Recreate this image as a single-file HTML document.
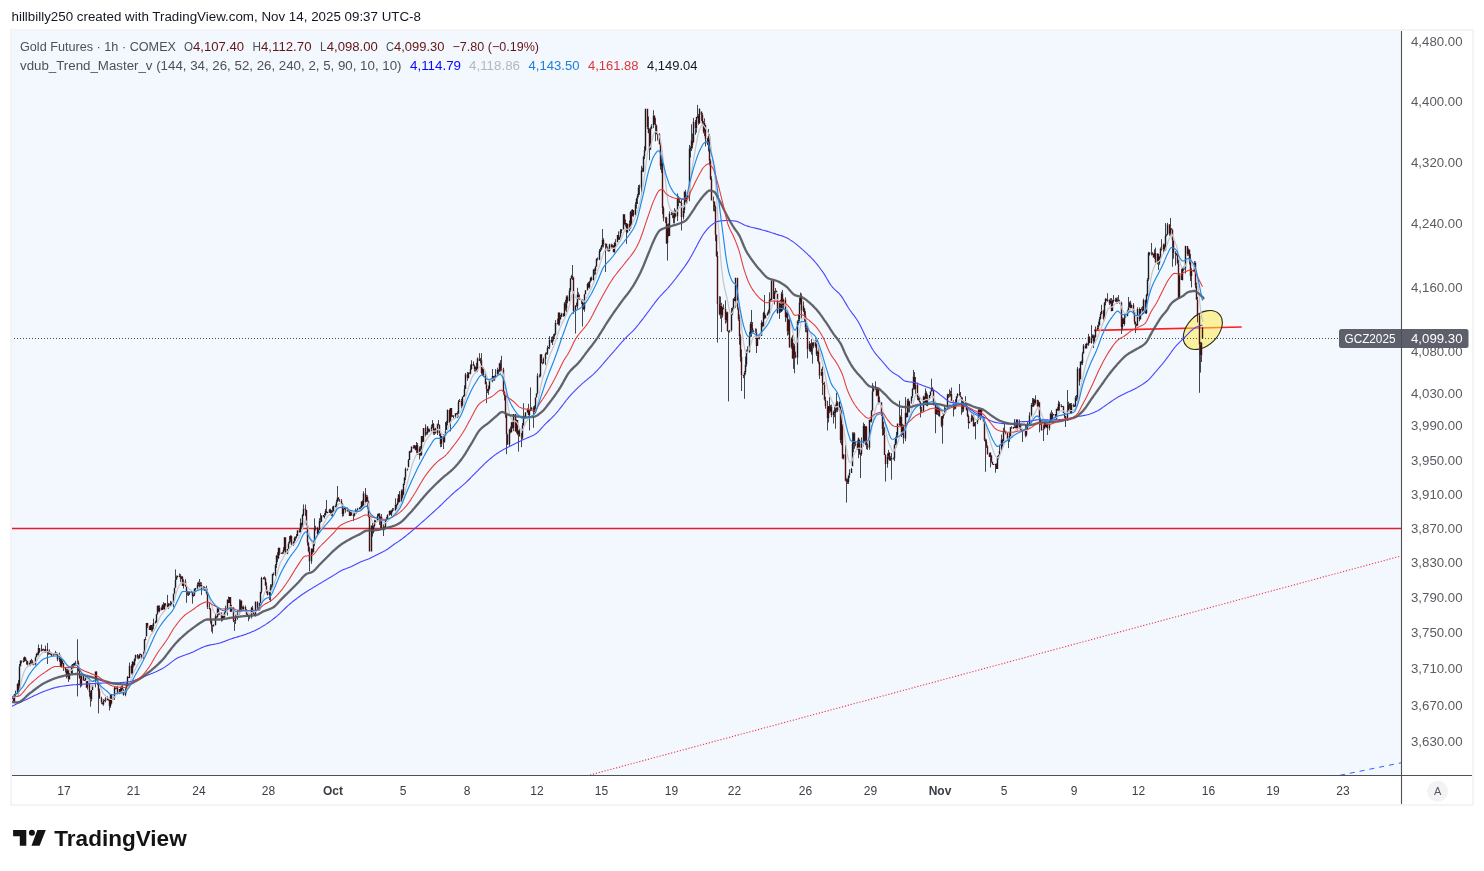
<!DOCTYPE html>
<html><head><meta charset="utf-8"><title>Gold Futures chart</title><style>html,body{margin:0;padding:0;background:#fff;width:1484px;height:871px;overflow:hidden}body{position:relative;font-family:"Liberation Sans",sans-serif}</style></head><body><svg width="1484" height="871" viewBox="0 0 1484 871" style="position:absolute;left:0;top:0;will-change:transform;font-family:'Liberation Sans',sans-serif">
<rect x="0" y="0" width="1484" height="871" fill="#fff"/>
<rect x="11" y="30" width="1462" height="775" fill="#fff" stroke="#f4f4f6" stroke-width="2"/>
<rect x="12" y="31" width="1389" height="744" fill="#f3f7fe"/>
<clipPath id="cp"><rect x="12" y="31" width="1389" height="744"/></clipPath>
<g clip-path="url(#cp)" fill="none">
<line x1="11" y1="528.5" x2="1401" y2="528.5" stroke="#e41c28" stroke-width="1.5"/>
<line x1="590" y1="775" x2="1401" y2="556" stroke="#f23645" stroke-width="1.1" stroke-dasharray="1.2 1.8"/>
<line x1="1340" y1="775.3" x2="1401" y2="762.8" stroke="#2962ff" stroke-width="1" stroke-dasharray="5 5"/>
<line x1="1094" y1="330.4" x2="1241.7" y2="327" stroke="#ff1c1c" stroke-width="1.6"/>
<ellipse cx="1202.8" cy="330" rx="22.9" ry="15.4" transform="rotate(-45 1202.8 330)" fill="#ffeb3b" fill-opacity="0.5" stroke="#2a2a12" stroke-width="1.1"/>
<line x1="11" y1="338.5" x2="1401" y2="338.5" stroke="#4a4a4a" stroke-width="1" stroke-dasharray="1 2"/>
<path d="M13.5 697.1V697.7M13.5 701.2V701.6M14.5 701.2V702.2M15.5 690.6V693.5M15.5 694.7V696.4M17.5 683.3V684.1M18.5 680.1V684.1M18.5 690.7V695.6M19.5 664V666.2M19.5 690.7V692M20.5 660.2V660.7M21.5 661.8V663.4M23.5 657.7V660.7M23.5 661.9V662.5M24.5 656.4V656.9M24.5 661V661.7M25.5 660.7V661.2M26.5 659.6V660.3M26.5 661.5V664.6M27.5 664.7V665.4M29.5 662.7V663.1M29.5 664.7V665.9M30.5 663.1V666.1M31.5 658.8V660.2M31.5 661.4V663.8M32.5 660.2V661.3M32.5 664.6V664.9M33.5 663.7V664.1M35.5 656.6V657.2M35.5 664.7V665.3M36.5 652.9V653.7M37.5 652.3V653.7M37.5 654.9V655.3M38.5 644.5V647.9M38.5 654.8V655.4M39.5 652.1V653M41.5 644.5V650M42.5 648.9V649.2M42.5 650.4V651.1M43.5 648.5V648.9M44.5 649.4V649.8M45.5 645.6V649.1M45.5 652.2V652.5M47.5 643V649.1M47.5 652.9V664M48.5 651V651.4M48.5 652.9V654.9M49.5 649.5V651.4M50.5 652.6V653.2M50.5 654.4V654.9M51.5 652.6V653.4M51.5 655.7V656.2M53.5 653.1V653.8M54.5 653.1V653.5M55.5 650.9V652.6M55.5 654.5V655.2M56.5 653.7V654.8M57.5 659.7V661.2M59.5 652.6V653.9M59.5 659.7V661.9M61.5 658.5V658.9M61.5 667.1V667.4M62.5 663V664.2M63.5 667.6V670.9M65.5 667V667.6M65.5 670.3V672.6M66.5 668.9V670.3M66.5 675.8V678.4M67.5 668.9V670.2M67.5 675.8V676.9M68.5 669.7V670.2M68.5 679.2V682M69.5 679.2V679.6M71.5 665.4V665.8M71.5 673V673.7M72.5 665.8V673.9M73.5 663.3V664M73.5 665.4V667.4M74.5 665.4V665.8M75.5 660.8V662.5M75.5 663.7V664.6M77.5 639.3V662.4M77.5 663.6V696.4M78.5 660.6V662.6M78.5 670.9V671.3M79.5 667.6V670.9M80.5 675.5V678.4M80.5 685.7V687.5M81.5 675.7V676.1M81.5 685.7V686.4M83.5 680.3V680.7M85.5 675.3V677.6M87.5 687.8V689.7M89.5 680.6V681.1M89.5 692.2V696.7M90.5 691V692.2M90.5 699.3V706.7M91.5 699.3V701.4M92.5 685.4V686.3M95.5 681V687.4M96.5 671.2V671.5M96.5 680.3V680.6M97.5 679V680.3M97.5 682.7V685.2M98.5 682V682.7M98.5 690.9V713.4M99.5 688.6V690.9M99.5 698V698.8M101.5 696.8V698M101.5 702.5V703.8M103.5 699.1V700.6M103.5 704.5V705.8M105.5 697.2V698.2M105.5 700.7V702.4M107.5 696.2V698.2M108.5 700.5V700.8M109.5 699V699.4M109.5 706V710.5M110.5 706V707.8M111.5 703.7V704.3M113.5 697V697.5M114.5 686.2V688.1M114.5 697.5V699.8M115.5 688.7V689.4M116.5 688.6V689.1M117.5 686.2V687.7M117.5 693.5V694.4M119.5 693.5V694.2M120.5 686.7V689M121.5 686.1V687.9M121.5 692.3V693.4M122.5 685.2V687.9M123.5 689.1V689.6M123.5 695.1V695.7M125.5 688.2V690.8M125.5 695.1V696.3M126.5 683.3V684.2M126.5 690.8V692.7M127.5 676.1V677.1M127.5 684.2V686.4M129.5 662.6V665.8M129.5 677.9V678.2M131.5 664.4V665.8M131.5 673.3V674.3M132.5 661V661.7M132.5 673.3V675.1M133.5 665.2V667.4M134.5 658.4V658.8M134.5 665.2V665.6M135.5 654.6V655.1M135.5 658.8V661.2M137.5 654V655.1M137.5 657.4V658.7M138.5 655.5V657.3M138.5 658.5V659.3M139.5 653.8V654.5M141.5 657.4V658.9M143.5 651.6V654.4M143.5 657.4V658.9M144.5 638.9V639.2M145.5 636.9V638.8M145.5 640V640.3M147.5 622.8V623.1M147.5 626.3V627.8M149.5 626V626.3M151.5 630.5V631.5M152.5 624.6V626.4M152.5 630.5V631.6M153.5 618.6V622.9M153.5 626.4V628.8M155.5 620.6V621.9M155.5 623.1V623.6M156.5 614V614.3M156.5 622V622.5M157.5 605.4V606M157.5 614.3V614.7M158.5 605.5V606M158.5 611.2V612M159.5 605.3V607.5M159.5 611.2V612.4M161.5 606.6V607.5M163.5 602.1V604.4M164.5 609.2V609.8M165.5 605.1V606.3M167.5 594.9V605.1M168.5 602.9V603.8M168.5 607.5V608.8M169.5 604.6V605.5M170.5 600.9V603.8M170.5 605V606.1M171.5 601.5V602.5M173.5 602.5V607.3M175.5 569.4V579.8M176.5 575.5V576.7M177.5 577V577.6M179.5 573.5V575.5M179.5 576.7V577M180.5 574.1V575.9M180.5 578.8V582.1M181.5 575.8V576.8M181.5 578.8V579.3M182.5 576.2V576.8M183.5 579.4V581.2M183.5 585.9V588.6M185.5 579.1V581.2M185.5 586V586.9M186.5 585.2V586M186.5 592.2V602.8M187.5 590.9V592.2M187.5 594.5V595.7M188.5 591.6V593.5M188.5 594.7V596M189.5 591.4V592M189.5 593.7V595M191.5 591V591.4M192.5 596.3V603.7M193.5 594.2V594.8M193.5 596.3V596.8M194.5 588.4V588.7M194.5 594.8V596.1M195.5 589.2V590.6M197.5 582.5V584.5M197.5 588.4V590.3M198.5 581.7V582.9M198.5 584.5V586.4M199.5 579V582.9M199.5 586V588.3M200.5 581.9V584.7M200.5 586V586.6M201.5 582.5V584.7M201.5 588.9V595.1M203.5 586.1V586.9M204.5 586.4V586.9M204.5 588.8V591M205.5 587.7V588.2M205.5 589.4V590M206.5 585.7V588.9M206.5 593.5V594.3M207.5 588.7V593.5M207.5 607.5V609M209.5 602.4V607.5M209.5 608.9V609.4M210.5 608.1V608.9M210.5 620.9V623.5M211.5 619.6V620.9M211.5 625V631.6M212.5 626.6V633.5M213.5 624.3V625.1M215.5 614.1V616.2M215.5 625.1V625.6M216.5 617.5V618.4M218.5 607.8V608.3M218.5 614.5V615.3M219.5 614.5V615M221.5 619.3V621.6M222.5 619.3V620.8M223.5 614.8V615.5M223.5 618.5V619M225.5 605.7V609M225.5 612.3V612.9M227.5 609V615.6M228.5 596.6V599.4M230.5 611.7V612.1M231.5 604.9V607.6M233.5 607.2V607.6M233.5 620.8V622.1M234.5 621.5V630.9M235.5 614.8V616.8M235.5 621.1V623.9M237.5 610.1V613.5M237.5 617.3V619.8M239.5 599.3V609.2M239.5 613.5V614.6M240.5 599.6V600.5M240.5 609.2V610.9M241.5 608.4V610.1M242.5 606.3V608.2M243.5 605.5V606.7M243.5 609.2V610.6M245.5 605.5V606.7M246.5 609V609.8M246.5 614.1V614.9M247.5 613.5V614.1M247.5 616.3V617M248.5 616.4V621.2M249.5 617.6V618.9M251.5 606.9V607.8M251.5 617.6V618.5M252.5 605.9V607.8M252.5 611.9V612.3M254.5 614.9V616M255.5 601.3V601.7M255.5 614.5V616.5M257.5 601.2V601.7M257.5 607.7V609M258.5 609.9V610.5M259.5 609.9V610.6M261.5 576.8V578.1M261.5 591.7V593.5M263.5 577.2V578.1M264.5 576.4V578.3M265.5 577.4V578.5M265.5 585.4V586M266.5 582.2V585.4M266.5 591.2V593.1M267.5 595.1V595.5M269.5 595.1V600.1M270.5 584.3V587.3M270.5 592V601.9M271.5 584.3V585.3M271.5 587.3V589.9M272.5 585.3V587.9M273.5 572.4V573.7M273.5 574.9V575.4M275.5 564V565.3M275.5 574.8V576.3M276.5 554.9V555.4M276.5 565.3V567.9M277.5 552.2V555.4M277.5 558.5V562.1M278.5 558.5V559.2M279.5 553.4V555.2M282.5 551.8V552.3M282.5 553.5V554.1M283.5 547.2V550.1M283.5 552.3V553.6M284.5 550.1V551.2M285.5 553.7V554.2M287.5 553.7V554.2M288.5 542.3V543.4M289.5 536.1V540.7M290.5 535.2V536.1M290.5 540.7V541.9M291.5 535.5V536.1M293.5 541.2V541.5M293.5 544.9V545.8M294.5 536.6V537.7M294.5 541.5V544.1M295.5 536.6V537.1M295.5 538.3V540.7M296.5 534V536M296.5 537.8V538.5M299.5 528.5V530.3M299.5 532.2V532.6M300.5 518.4V522.9M300.5 532.2V532.5M301.5 522.5V522.9M301.5 525V528.8M302.5 513.9V514.9M302.5 525V527.4M303.5 504.4V508.5M303.5 514.9V516M305.5 504.5V508.5M305.5 510V516.1M307.5 542.7V545.5M308.5 541.9V542.7M308.5 551.5V552.3M309.5 547.1V551.5M309.5 561.4V571.2M311.5 548.2V548.7M311.5 561.4V563.8M312.5 548.4V548.7M312.5 551.9V554M313.5 541.5V543.4M313.5 551.9V552.5M314.5 518.4V528.7M314.5 543.4V546.1M315.5 525.9V527.6M315.5 528.8V530.4M317.5 526.8V527.7M317.5 534V536.6M318.5 529.4V530.2M319.5 518.2V520.4M320.5 513.2V520.4M320.5 521.8V522.9M321.5 515.2V516.1M323.5 516.3V517.3M324.5 513.2V515.4M324.5 516.9V518.4M325.5 508.9V510.8M326.5 500V510.8M326.5 512.7V513.1M329.5 508.9V509.6M330.5 508.7V509.6M330.5 513.3V513.8M331.5 510V510.9M331.5 513.3V516.1M332.5 506.6V510.9M332.5 512.5V516.7M335.5 504.5V505.7M335.5 506.9V507.4M336.5 499.8V501.7M336.5 506.8V509.1M337.5 486V497.6M337.5 501.7V502.2M338.5 497.2V497.6M338.5 499.3V500.6M339.5 500.8V501.9M341.5 499.1V500.8M342.5 503.2V503.7M342.5 514.1V516.7M343.5 508.3V509M343.5 514.1V516.2M345.5 508V508.5M345.5 510.4V512.7M347.5 507.5V510.2M348.5 508.8V509.9M348.5 511.1V511.5M350.5 510.6V511.2M353.5 513.3V514.9M353.5 516.1V521.1M354.5 515.7V516.5M355.5 508.6V512M356.5 513.1V513.7M357.5 507.8V508.8M359.5 507.1V507.7M359.5 508.9V509.2M360.5 506.2V507.7M361.5 501.1V501.6M361.5 510.1V510.4M362.5 500.2V501.6M362.5 508.8V509.4M363.5 491.3V493.3M365.5 488V493.3M365.5 501.9V504.4M366.5 495.1V496.7M367.5 495.3V496.7M367.5 501.3V508.5M368.5 500.5V501.3M368.5 516.7V517.4M372.5 523V525.5M372.5 531.9V536.6M373.5 525.3V526.3M373.5 531.9V533.5M374.5 519.8V522.8M374.5 526.3V527.3M375.5 520.1V520.6M375.5 522.8V523.2M377.5 513.9V516.1M378.5 516.1V516.5M379.5 513.1V513.5M379.5 521.6V524.9M380.5 521.6V528.6M381.5 514.1V516.4M381.5 528.5V529.6M383.5 524.4V527.1M383.5 528.5V536M384.5 526.3V526.8M384.5 528V530.2M385.5 519.3V519.8M385.5 527.7V529M386.5 516.9V518.8M386.5 520V520.7M387.5 514.3V515M389.5 515V515.6M390.5 510.5V510.8M391.5 509.8V510.8M391.5 514.8V516.1M392.5 508V509.7M392.5 510.9V512.2M393.5 508.1V509.4M395.5 498.3V504.4M395.5 510.2V510.7M396.5 504.1V504.4M396.5 507.6V508.8M397.5 498.5V502.5M398.5 502.5V503.5M399.5 491V494.2M399.5 501.9V502.3M401.5 489.4V490.4M401.5 501.9V502.3M402.5 489.4V490.4M402.5 496.9V498.6M404.5 477V477.6M404.5 483.5V485M405.5 467.5V469M405.5 477.6V480.1M407.5 469.8V470.8M408.5 459.2V460M409.5 450.8V451.3M410.5 450.4V451.3M413.5 445V446.5M413.5 448.2V448.7M414.5 444.9V445.4M414.5 448.2V448.6M416.5 442V444.9M416.5 450.3V452.9M417.5 443.1V444.9M419.5 446.5V448.2M419.5 454.9V459.5M420.5 445.9V448.2M420.5 455.1V456.2M421.5 455.1V455.8M425.5 424.3V428M425.5 435.6V436.6M426.5 431.8V433.4M427.5 433.5V434.7M428.5 431.4V432.4M429.5 428.8V429.5M429.5 431.4V432.2M431.5 424.7V426.7M431.5 429.5V431.3M432.5 420V423.9M432.5 426.7V427.9M433.5 423V423.9M433.5 433.6V434.8M434.5 428.5V429.1M434.5 433.6V435M435.5 427.7V429.1M435.5 433V433.8M437.5 423.6V424.2M437.5 433V435M438.5 420V424M439.5 424.5V424.9M439.5 433.6V436.1M440.5 444.5V447.2M441.5 444.5V446.9M443.5 434.1V436.1M443.5 442.2V449M444.5 435.3V435.6M444.5 442.2V442.6M445.5 422V431.2M445.5 435.6V436M446.5 420.9V423M447.5 409.5V410.1M447.5 423V425.3M449.5 409.3V410.1M449.5 422.5V423.5M450.5 422.5V431.4M451.5 416.7V417.4M452.5 415V415.4M453.5 415.1V415.4M453.5 416.7V418.3M455.5 416.7V418.4M457.5 411.4V413.5M457.5 414.7V418.1M458.5 400V401.9M458.5 414.1V416.7M459.5 399V400.4M461.5 398.9V400.4M461.5 406.6V408.4M462.5 406.6V407M463.5 394.9V395.8M464.5 385.3V389M464.5 396V396.5M465.5 372.9V374.3M467.5 371.9V374.3M467.5 378.3V380.8M468.5 372.3V372.7M470.5 364.8V369M470.5 373.7V374.4M471.5 360.2V364.1M471.5 369V369.7M473.5 361.5V364.1M474.5 364.8V365.8M474.5 369.6V371.6M475.5 369.6V371.5M476.5 362.7V366.8M476.5 370.2V371M477.5 357.4V358.2M477.5 370.2V371.9M479.5 353.2V358.2M480.5 358V360M480.5 361.2V363.5M481.5 353.2V360.3M481.5 373.1V374.5M482.5 365.9V368.6M482.5 373.1V376.1M483.5 367V368.6M483.5 375.7V377.1M485.5 373.4V375.7M486.5 381.7V384.2M486.5 388.9V403.2M487.5 391.2V393M488.5 385.7V389M488.5 391.2V394.8M489.5 389V389.5M491.5 380.6V381.3M492.5 369V376M492.5 379.9V382.3M493.5 380.6V381M494.5 375.9V377.7M495.5 369.1V374.4M495.5 377.7V378.3M497.5 367.7V369.4M498.5 371.7V375.8M499.5 362.7V363.3M500.5 360.1V363.3M500.5 368.9V373.7M501.5 355.8V368.5M501.5 369.7V371.7M503.5 367.8V369.2M503.5 392.1V394.4M504.5 391.3V392.1M504.5 395.9V400.5M505.5 395.5V395.9M505.5 414.8V417.8M506.5 413.9V414.8M506.5 434.6V454.2M507.5 433.6V434.6M509.5 428.6V429.2M509.5 444.8V446.9M510.5 426.6V429.2M510.5 432.2V433.4M511.5 421.9V422.2M511.5 432.2V432.5M512.5 421.8V422.2M512.5 428.1V428.6M513.5 428.1V431.1M515.5 431.4V431.7M516.5 419.3V420.1M516.5 431.4V433.1M517.5 434.3V435.2M518.5 430.2V431.1M518.5 434.3V451.6M519.5 428.5V431.1M521.5 432.9V436.5M521.5 437.7V447.2M522.5 423V425.3M522.5 437.7V439.3M523.5 403.2V419.1M523.5 425.3V425.8M524.5 415.7V417.1M525.5 412V412.6M527.5 412.6V413M528.5 403.8V408.5M528.5 414.9V415.4M529.5 410.1V411M529.5 414.9V430.5M530.5 387.4V409.2M531.5 406.9V407.8M531.5 409.2V410.6M533.5 406.2V407.8M533.5 411.7V427.8M534.5 405.5V407M534.5 411.7V412.5M535.5 407V409.2M536.5 393.1V393.6M537.5 373.3V375.5M537.5 393.6V394.3M539.5 374.2V375.4M539.5 376.6V377.6M540.5 376.6V377.1M542.5 363.7V364.4M543.5 357.5V359M545.5 352.6V353.8M545.5 359V365M546.5 352.3V353.1M547.5 345.6V347.7M547.5 353.5V354.9M548.5 348.3V348.8M549.5 336.1V339.9M549.5 347.6V349.2M551.5 336.9V339.9M551.5 342.4V343M552.5 336.3V339.5M552.5 342.4V345M553.5 334.3V336.3M553.5 339.5V341.1M554.5 333.4V333.8M554.5 336.3V337.6M555.5 320.1V322.7M555.5 333.8V335M557.5 318.7V322.7M558.5 324.3V325.7M559.5 323V325.5M560.5 314.9V316.9M561.5 312.8V313.2M563.5 316.3V316.8M564.5 302.1V303.2M565.5 299.8V303.2M565.5 308.7V310.6M566.5 295.5V296.6M566.5 308.7V312.1M567.5 295.4V296.6M567.5 301.2V303.2M569.5 288.2V290.5M570.5 290.5V291.8M571.5 274.8V275.9M571.5 278.2V279.1M572.5 265V275.9M572.5 277.5V280M573.5 277V277.5M573.5 311.3V313.8M575.5 305V305.5M575.5 311.3V333.5M576.5 302.6V305.2M577.5 287.8V294.6M577.5 306.2V308.8M578.5 292.3V294.6M579.5 294.6V298.6M581.5 300.5V304M582.5 299.4V300M582.5 307.1V326.5M583.5 302.7V307.1M583.5 309.3V310M584.5 293.9V294.3M584.5 309.3V311.7M587.5 282.8V284M587.5 290.2V290.5M588.5 281.9V284M588.5 287.4V288.1M589.5 280.8V281.8M589.5 287.4V288.6M590.5 277.2V278M590.5 281.8V282.5M591.5 276.5V278M591.5 280V280.8M593.5 268.9V269.7M593.5 280V280.6M594.5 268.4V269.7M594.5 271.1V275.1M595.5 265.8V266.4M595.5 271.1V274.5M596.5 266.4V267M597.5 257.3V258.5M597.5 259.7V260.5M599.5 249V250.9M599.5 259.7V260.2M600.5 247.6V249.4M600.5 250.9V252M601.5 244.9V246.1M601.5 249.4V250.2M602.5 229V239.8M602.5 246.1V247.3M603.5 238.2V239.8M603.5 244.5V247.4M605.5 244.8V272M606.5 247.3V247.8M607.5 246.5V247.3M608.5 248.6V250.2M609.5 243.7V244.3M611.5 243.6V244.3M611.5 247.3V248.9M612.5 244.5V246M612.5 247.3V248.7M613.5 245.1V246M614.5 241.8V242.7M614.5 252.3V252.7M615.5 239.2V242.7M618.5 231.4V235.1M618.5 239.7V240M620.5 229V231.1M620.5 236.8V237.5M621.5 229V229.6M621.5 231.1V233.2M624.5 224V224.8M625.5 219.5V222.9M625.5 224.1V226.6M626.5 232V243.9M627.5 232V233.1M629.5 220.5V223.7M629.5 229.8V231M630.5 210.9V212M631.5 209.7V212M631.5 224.9V225.7M632.5 209.1V210.1M633.5 215V216.8M635.5 202.2V204.5M635.5 215V215.6M636.5 197.8V198.8M636.5 204.5V208.6M637.5 193.9V195.5M637.5 198.8V204M638.5 185V187.5M638.5 195.5V197.2M639.5 184.6V187M639.5 188.2V194.7M641.5 165.8V170.2M641.5 187.6V192.9M642.5 167.6V170M642.5 171.2V172M643.5 155.7V156.4M643.5 170.9V172.2M644.5 146.2V150.2M644.5 156.4V159.1M645.5 150.2V151.3M647.5 127.6V129.1M648.5 116.5V127.6M648.5 132.9V133.3M649.5 128.5V132.9M649.5 149.4V160.3M650.5 127.3V128.8M650.5 149.4V150.1M651.5 124.2V125.4M653.5 110.2V115.4M653.5 125.4V128.1M654.5 124V124.6M655.5 117.9V124M655.5 125.6V141.3M656.5 124.6V125.6M657.5 132.9V133.7M657.5 134.9V140.6M659.5 133.2V134.3M659.5 144.3V144.7M660.5 142.6V144.3M660.5 165.9V169.7M661.5 158.6V162.8M661.5 165.9V172.9M662.5 151V162.8M662.5 208.1V214.2M663.5 206.3V208.1M663.5 218.4V221.3M665.5 216.9V217.4M665.5 218.6V223.1M666.5 216.7V217.7M666.5 243.4V244M667.5 223.8V226.2M667.5 243.4V260.6M668.5 223.4V226.2M668.5 236.1V236.6M669.5 211.3V213.6M671.5 211.8V213.6M672.5 212.5V214.4M672.5 215.6V217.8M673.5 212.9V214.9M673.5 218.8V223.4M674.5 208.1V211.9M674.5 218.8V223.4M675.5 209.8V211.9M675.5 216.4V217.1M677.5 193.5V197.9M677.5 216.4V221.1M678.5 195.8V197.9M678.5 200.8V206.1M679.5 198V200.7M679.5 201.9V203M681.5 199.8V203M681.5 216.9V230.5M683.5 206.9V210.3M683.5 216.9V219.4M684.5 210.3V213.2M685.5 189.8V191.6M685.5 201.8V202.3M686.5 197.3V197.7M686.5 201.8V203.7M687.5 194.9V195.9M687.5 197.7V203.2M689.5 144.9V148.5M689.5 195.9V201.2M690.5 146.3V147.8M690.5 149V157.6M691.5 124.3V140.2M691.5 148.3V151M692.5 133.6V140.2M692.5 145.6V148.5M693.5 117.9V121.8M695.5 120V121.8M695.5 128.3V134.8M696.5 128.3V132.7M697.5 104.9V115.8M697.5 117V118.4M698.5 114V115.9M698.5 123.6V124.8M699.5 108.3V108.7M699.5 123.6V123.9M701.5 114.7V121M702.5 113.1V114.7M703.5 121V123.4M703.5 131.7V133.4M704.5 118.3V122.4M704.5 131.7V136.2M705.5 139V146.5M707.5 137.9V139M707.5 144V145.1M708.5 129.1V135.9M708.5 144V151.4M709.5 133.9V135.9M709.5 160.8V165.4M710.5 159.2V160.8M710.5 178.9V180M711.5 176.4V178.9M713.5 196.5V200.4M713.5 201.7V211.2M714.5 201.4V201.7M714.5 207.1V211.6M715.5 205.5V207.1M715.5 234.7V241.2M716.5 234.4V234.7M716.5 255.9V256.8M717.5 251.4V255.9M717.5 304V342.6M719.5 296.2V304M719.5 314.2V315.4M720.5 296.5V305.4M720.5 314.2V318.7M721.5 302.8V305.4M721.5 315.4V332M722.5 306.8V308M722.5 315.4V317.6M723.5 304.3V307.8M723.5 309V309.3M725.5 300.4V308.7M725.5 320.3V323.7M726.5 311.7V312.3M726.5 320.3V322.3M727.5 311.7V312.3M728.5 332.1V401.4M729.5 329.8V330.2M729.5 331.8V332.7M731.5 307.9V313.8M731.5 330.2V331.5M732.5 307.4V309M732.5 313.8V315.1M734.5 296.8V298.5M735.5 301.1V307.8M737.5 307V309.8M738.5 306.7V307M738.5 319.5V320.8M739.5 314.1V319.5M739.5 336.2V344.7M740.5 334.3V336.2M740.5 357V361.7M741.5 349.4V357M741.5 375.3V391M743.5 376.1V378.1M744.5 371.1V372.4M744.5 375.8V398.8M745.5 356.6V364.5M745.5 372.4V374.5M746.5 349.7V351.8M746.5 364.5V366.5M747.5 346.3V351.4M747.5 352.6V353.2M749.5 331.8V336.6M749.5 352.1V352.8M750.5 321.9V324M750.5 336.6V337.2M751.5 310V324M751.5 328.1V336.7M752.5 322V328.1M752.5 330.5V332.4M753.5 329.9V330.5M753.5 331.7V332.2M755.5 328.4V331.4M755.5 332.6V333M756.5 328.7V332.4M756.5 345.9V353M758.5 336.5V337.1M758.5 338.3V338.9M759.5 334.7V336.1M759.5 337.4V339.4M761.5 320.4V323M762.5 322V323M762.5 326.3V327.2M763.5 311.7V313M763.5 326.3V326.6M764.5 295V313M764.5 318.7V319.3M765.5 314.8V315.2M767.5 312.3V313.2M767.5 315.2V315.7M768.5 309.5V310.8M768.5 313.2V314.3M769.5 292.4V299.4M769.5 310.8V313.8M770.5 298.6V299.1M770.5 300.3V301M771.5 299.9V300.3M774.5 291V292.6M774.5 299.1V304.5M775.5 288.1V291.3M775.5 292.6V293.5M776.5 290.5V291M777.5 313.1V313.8M779.5 300.6V301.1M779.5 313.1V318.9M780.5 299.8V301.1M780.5 311.8V312.7M781.5 291.8V293.6M781.5 311.8V312.1M782.5 289.9V293.6M782.5 305.5V310.9M783.5 298.7V299.5M783.5 305.5V309.5M785.5 297.3V299.5M785.5 317V321.9M786.5 312.1V312.5M786.5 317V318.1M787.5 311.3V312.5M787.5 331.5V335.7M788.5 319.1V319.6M788.5 331.5V334.7M789.5 316.2V319.6M789.5 347.5V347.8M791.5 337.3V338.6M791.5 347.5V348.8M792.5 335.3V338.6M792.5 358.4V359M793.5 343V345.5M793.5 358.4V368.9M794.5 343.8V345.5M794.5 355.1V373.3M795.5 351.6V355.1M795.5 357.8V358.2M797.5 320.5V321.2M797.5 357.8V364.6M798.5 314.3V319.6M798.5 321.2V324.7M799.5 297.9V302.2M799.5 319.6V321.5M800.5 292.5V295.8M800.5 302.2V304.5M801.5 293.6V295.8M801.5 310.7V318.3M803.5 301.4V305.5M803.5 310.7V312.1M804.5 315.5V321.9M805.5 311.2V315.5M805.5 327.5V332.2M806.5 323.3V327.5M806.5 329.6V332.3M807.5 326.1V329.6M807.5 349.5V358.4M809.5 341.1V343.5M809.5 349.5V351.3M810.5 343V343.5M810.5 351.7V352.2M811.5 338.9V346.1M811.5 351.7V354.7M812.5 346.1V363.7M813.5 342V342.6M813.5 346.4V348.3M815.5 339.7V340.5M815.5 346.4V347.6M816.5 354.4V356.1M817.5 350.8V351.4M817.5 354.4V361.2M818.5 346.5V351.4M818.5 362.3V363.8M819.5 361.5V362.3M819.5 375.7V378.9M821.5 368.8V371.7M822.5 366.6V371.7M822.5 383.1V395M823.5 384.4V384.7M824.5 381.8V384.4M824.5 399.7V400.5M825.5 396.9V399.7M825.5 406.2V408.7M827.5 400.8V406.2M827.5 418V430.5M828.5 418V422.4M829.5 397.2V406M829.5 411.1V413.2M830.5 404.9V406.5M830.5 411.1V412.2M831.5 404.6V406.5M831.5 415.2V417.1M833.5 410.6V412M833.5 415.2V423.5M834.5 406.8V411.9M834.5 413.1V417.1M835.5 404.8V409.1M835.5 413V428.8M836.5 392.8V402.3M836.5 409.1V411.8M837.5 401.1V402.3M837.5 410.4V412.1M839.5 401.3V401.9M840.5 440V443.2M841.5 410.2V411.2M841.5 440V445.2M842.5 458.4V459.1M843.5 458.4V459.5M845.5 445.1V454.2M845.5 480.7V481.4M846.5 478.3V479.3M846.5 480.7V502.6M847.5 478.5V479.3M847.5 482.2V484M848.5 482.2V484M849.5 469.3V473M849.5 475.4V477.8M851.5 467.8V469.1M852.5 432.3V444.1M853.5 432.3V433.3M853.5 444.1V452.1M854.5 432.3V433.3M854.5 444.5V448.8M855.5 441.9V443.6M855.5 444.8V446.2M857.5 440.4V443.8M858.5 450V458.2M859.5 452.9V454.7M860.5 454V478M861.5 437.4V443.5M861.5 454V455.7M863.5 422.6V426.1M863.5 443.5V446.4M864.5 424V426.1M864.5 442.9V443.6M865.5 426V426.8M865.5 442.9V445.3M866.5 425.8V426.8M866.5 445.3V449.2M867.5 443.5V445.3M867.5 447.7V449.9M869.5 447.7V449.7M870.5 419V419.8M870.5 421V422.3M871.5 410.1V410.6M871.5 421V422.5M872.5 383.1V391.3M872.5 410.6V411.3M873.5 385.5V388.8M873.5 391.3V391.9M875.5 381.4V388.5M876.5 387.6V389.4M876.5 395.8V396.4M877.5 387.7V388.7M878.5 388.4V388.7M878.5 402.7V404.3M879.5 396.6V400.3M881.5 413.3V416.1M882.5 412.2V413.3M882.5 429.1V435.7M883.5 421.7V429.1M884.5 426.9V434.9M885.5 454.3V455.1M885.5 463.9V481.5M887.5 453.4V456.6M887.5 463.9V467.7M888.5 449.9V452.7M888.5 456.6V459.4M889.5 452V452.7M889.5 460.2V460.7M890.5 456.2V457.5M890.5 460.2V461M891.5 453.1V457.5M891.5 459.3V479.7M893.5 457.5V458.3M894.5 444.2V445.1M894.5 458.4V461.1M895.5 437.2V438.2M896.5 432V435.6M896.5 438.2V447.3M897.5 435.6V436.9M899.5 400.7V423.5M899.5 425.2V425.7M900.5 415.5V416.9M900.5 425.2V426.4M901.5 408.7V416.9M901.5 434.9V437M902.5 423.8V425.7M903.5 424.7V425.7M903.5 438.4V443.7M905.5 397.2V412.7M905.5 438.4V441.1M906.5 417.3V417.7M907.5 398.9V400.2M908.5 398.5V400.2M908.5 408.2V412.5M909.5 400.9V401.2M909.5 408.2V412.4M911.5 396.1V396.6M911.5 401.2V403.6M912.5 388.1V388.8M912.5 396.6V398M913.5 369.9V376.6M913.5 388.8V389.5M914.5 372.1V376.6M915.5 377V384.5M915.5 389.5V394M917.5 382.7V384.5M917.5 397.3V399.9M918.5 396V397.3M919.5 396.9V400.5M920.5 401.4V402.2M920.5 409.2V417.4M921.5 407V409.2M921.5 411.6V412.8M923.5 395.7V396.6M923.5 411.6V412.1M924.5 402.4V402.9M925.5 388.4V392.8M925.5 402.4V405M926.5 391.3V392.8M927.5 394.3V398.2M927.5 405.8V406.3M929.5 398.2V399.8M930.5 394.9V396.1M931.5 378.7V387.7M932.5 387.2V387.7M932.5 390.4V391.2M933.5 389.8V390.4M933.5 402.4V405.4M935.5 414.2V433.2M936.5 406.6V407.2M936.5 414.2V414.7M937.5 406.7V407.2M937.5 412.4V415M938.5 407.2V407.7M938.5 412.4V416.2M939.5 406.6V407.7M939.5 416.2V416.7M941.5 425.7V427.3M942.5 425.7V443.7M943.5 413V414.1M943.5 416V418.5M944.5 406.2V412.9M944.5 414.1V415.3M945.5 407.8V409.8M945.5 412.9V413.3M947.5 393.7V394.5M948.5 395.1V398M949.5 389.3V394.5M949.5 395.8V397.2M950.5 390.9V393.9M950.5 395.8V396.5M951.5 387.5V393.9M951.5 401.4V403M953.5 400.3V401.4M953.5 403.3V416.5M954.5 402.9V403.3M954.5 408.7V409.7M955.5 399.3V402.7M955.5 408.7V409.1M956.5 396V396.4M956.5 402.7V404.1M957.5 393.2V394M957.5 396.4V397.9M959.5 384V394M960.5 392V395.4M961.5 396.7V397M961.5 400.6V414.7M962.5 397.5V400.6M962.5 409.7V412.5M963.5 400.6V402.9M963.5 409.7V411.8M965.5 396.3V402.8M965.5 404V405.6M966.5 403.3V403.9M966.5 409.9V410.6M967.5 406.6V409.9M967.5 415.9V417M968.5 414.5V415.9M968.5 423.2V428.8M969.5 421.4V421.8M971.5 414.3V418M972.5 414.4V415M972.5 418V420.5M973.5 414.6V415M973.5 426.3V426.8M975.5 423.2V439.3M977.5 418.7V419.5M977.5 422.5V424.2M978.5 419.5V420M979.5 408.8V409.4M980.5 418.6V420.2M981.5 408.5V409.5M983.5 416.6V417.1M984.5 418.4V421.4M984.5 439.7V441M985.5 438.5V439.7M985.5 442V471.8M986.5 439.3V442M986.5 446.2V448M987.5 445.3V446.2M987.5 454V454.7M989.5 452.6V454M990.5 452.4V452.8M990.5 457V467.4M991.5 461.7V462.6M995.5 464.9V472.7M996.5 463.3V464M997.5 456V458.1M998.5 458.1V459.3M999.5 444.7V451M999.5 455V455.9M1001.5 434.6V439.6M1002.5 439.1V439.6M1002.5 446.4V447.6M1003.5 427.8V430.2M1004.5 422.6V430.2M1005.5 430.8V431.9M1005.5 433.1V434.4M1007.5 438.9V440.8M1008.5 438.3V438.7M1008.5 439.9V448.1M1009.5 432.7V436M1009.5 439.8V441.8M1010.5 436V436.4M1011.5 426.2V427.2M1013.5 428.4V429M1014.5 419.1V426.6M1015.5 425.2V427.1M1016.5 427.9V428.5M1017.5 428.5V430.3M1019.5 419.5V424.1M1020.5 429.5V430M1021.5 429V429.4M1021.5 430.6V431.5M1022.5 429.7V430.1M1022.5 431.3V442M1025.5 425V430.4M1025.5 435.4V437.3M1026.5 425V429.6M1026.5 435.4V436.4M1027.5 421.3V425.3M1027.5 429.6V430.1M1028.5 423.6V423.9M1029.5 412.3V415.3M1029.5 423.9V424.5M1031.5 403.1V404.4M1031.5 415.3V416.4M1032.5 398V404.4M1032.5 406.5V407M1033.5 398.2V400.1M1033.5 406.5V407.1M1034.5 398.9V400.1M1034.5 403.6V405.5M1035.5 395.4V399.8M1035.5 403.6V404.5M1037.5 406.5V407.1M1038.5 400.2V402.2M1039.5 401.8V402.2M1039.5 419.5V432.3M1040.5 417.8V419.5M1040.5 424.6V425M1041.5 422.3V424.6M1043.5 425.1V428.8M1043.5 430.4V441M1045.5 421.8V422.2M1045.5 426.9V427.4M1046.5 423.5V423.9M1046.5 426.9V427.7M1047.5 422.6V423.9M1047.5 428.4V435M1049.5 428.4V430.4M1050.5 412.5V413.7M1050.5 421.5V422.5M1051.5 410.3V413.7M1052.5 412.4V415.1M1052.5 421.3V421.7M1055.5 419.5V420.3M1056.5 419.5V419.9M1057.5 407.2V408.7M1057.5 410.2V410.8M1058.5 400.7V404M1058.5 410.2V411.2M1059.5 401.9V404M1059.5 406.8V410.6M1061.5 404.3V405.9M1061.5 407.1V407.4M1063.5 405.8V406.6M1064.5 416V418M1065.5 419.2V427M1067.5 390V410.5M1067.5 419.2V420.6M1068.5 401.7V404.9M1068.5 410.5V411.3M1069.5 404.9V408.8M1070.5 403.1V403.6M1071.5 403.1V404.4M1071.5 412.9V413.7M1073.5 403.6V404.4M1073.5 406.3V407.3M1074.5 404.8V405.8M1075.5 395.9V397.5M1075.5 406.6V407.3M1076.5 395V397.5M1076.5 399V400.9M1077.5 367V368.6M1077.5 399V400.8M1079.5 368.1V368.6M1079.5 381.8V385.7M1081.5 360.6V361.6M1081.5 363V364.6M1082.5 351.8V353.5M1082.5 363V365M1083.5 344V345.6M1083.5 353.5V354M1085.5 343.8V345.6M1086.5 342.7V343.8M1087.5 344.8V345.3M1088.5 333.9V336.8M1088.5 344.7V345.9M1089.5 336.2V336.8M1089.5 342.9V343.2M1091.5 325.1V337.9M1091.5 342.9V343.6M1092.5 334.4V336.1M1092.5 337.9V338.2M1093.5 334.6V336.1M1093.5 341.2V348M1094.5 335.1V337.1M1094.5 341.2V342.7M1095.5 326.5V329.6M1095.5 337.1V337.7M1097.5 324.9V327.6M1097.5 329.6V330.3M1098.5 321.6V325.7M1098.5 327.6V329.1M1099.5 317V318.9M1100.5 312.2V313.9M1100.5 318.9V319.5M1101.5 304.8V310.4M1101.5 313.9V314.4M1103.5 309.8V310.4M1103.5 319.1V320.4M1104.5 302.2V303.1M1104.5 319.1V320.4M1105.5 297.9V298.9M1105.5 303.1V305.4M1106.5 298.6V298.9M1107.5 293.2V299.7M1107.5 300.9V301.7M1109.5 299.2V299.8M1109.5 303.4V305.1M1110.5 298.2V300.6M1110.5 303.4V303.9M1111.5 298.1V300.6M1112.5 299.8V301.1M1113.5 295.1V299.6M1113.5 301.1V302.7M1115.5 297.8V299.6M1115.5 301.4V302M1116.5 297.6V298.6M1116.5 301.4V303.9M1117.5 297.4V298.4M1117.5 299.6V303.5M1118.5 295.1V299.4M1119.5 299.9V301.7M1119.5 302.9V304.1M1121.5 301.6V302.7M1121.5 327V334M1122.5 317.4V318.9M1122.5 327V330.3M1123.5 317.9V318.9M1124.5 315V317.6M1124.5 324.1V325.7M1125.5 315.3V316.4M1127.5 309.8V310.9M1128.5 297V307.2M1128.5 310.9V311.7M1129.5 301.6V302.6M1130.5 300.8V302.6M1131.5 304.7V305.1M1133.5 303.2V305.1M1133.5 311.8V312.8M1134.5 309.9V311.8M1134.5 322.1V324.3M1135.5 321.5V322.1M1135.5 324.1V333M1136.5 325.7V326.5M1137.5 307.3V308.9M1137.5 325.7V326M1139.5 307.5V308.9M1139.5 319.2V321.4M1140.5 319.2V319.7M1141.5 307.3V308.5M1142.5 306.2V309.3M1142.5 314V315.1M1143.5 298.5V299.7M1145.5 313V313.7M1146.5 293.8V295.1M1146.5 313V314M1147.5 278.1V279.4M1147.5 295.1V296.3M1148.5 251.8V253.1M1148.5 279.4V280.8M1149.5 252V252.8M1149.5 254V255.6M1151.5 243V252.6M1151.5 253.8V255.4M1152.5 252.2V252.6M1152.5 253.8V255.1M1154.5 249.3V253M1154.5 257.4V258.8M1155.5 247.6V253M1155.5 262.4V262.8M1157.5 253V253.7M1157.5 262.4V264.4M1158.5 263.2V270M1159.5 256.2V256.7M1159.5 263.2V264.7M1160.5 247.4V248.5M1160.5 256.7V258.4M1161.5 239.2V248.5M1161.5 249.7V250.5M1163.5 243.5V244.7M1163.5 249.6V253.7M1164.5 243.8V244.7M1165.5 223.1V235.8M1166.5 235.8V236.4M1167.5 222.8V224.2M1167.5 234.2V235.1M1169.5 233.7V235.7M1170.5 218V228.3M1170.5 233.7V235.4M1171.5 229.4V229.8M1172.5 240.4V266.8M1173.5 239.7V240.4M1173.5 253.3V258.7M1175.5 251.3V253.1M1175.5 254.3V265.6M1176.5 253.1V253.8M1176.5 255V255.6M1177.5 249.6V254.7M1177.5 263.6V264.3M1178.5 259.5V263.6M1178.5 298.5V299M1179.5 273.2V275.3M1179.5 298.5V299M1181.5 269V275.3M1182.5 267.2V267.6M1182.5 280.1V280.6M1183.5 266.7V267.6M1183.5 269.5V271.2M1184.5 268.1V268.4M1185.5 245.6V245.9M1185.5 268.6V273.6M1187.5 254.3V255.8M1188.5 248.3V249.4M1188.5 254.3V255.7M1189.5 259V264.5M1190.5 253.9V259M1190.5 275.9V281M1191.5 268.3V270.3M1191.5 275.9V287.4M1193.5 269.7V270.1M1193.5 271.3V271.8M1194.5 261.1V262.4M1195.5 261.5V262.4M1195.5 285.7V288.3M1196.5 282.7V285.7M1197.5 296.9V299.7M1197.5 316.1V322.4M1199.5 313.9V316.1M1199.5 344.7V392.8M1200.5 341.8V344.7M1200.5 355.4V372.6M1201.5 355.4V362M1202.5 327V327.5M1202.5 338.6V339" stroke="#45474d" stroke-width="1"/>
<path d="M12.5 697.6V698.8M14.5 694.1V701.2M15.5 693.5V694.7M17.5 684.1V694.1M19.5 666.2V690.7M20.5 660.7V666.2M23.5 660.7V661.9M24.5 656.9V661M29.5 663.1V664.7M30.5 660.2V663.1M35.5 657.2V664.7M36.5 653.7V657.2M38.5 647.9V654.8M41.5 650V651.2M42.5 649.2V650.4M45.5 649.1V652.2M48.5 651.4V652.9M50.5 653.2V654.4M53.5 653.8V655.7M55.5 652.6V654.5M59.5 653.9V659.7M61.5 658.9V667.1M67.5 670.2V675.8M69.5 673V679.2M71.5 665.8V673M72.5 664V665.8M74.5 662.8V665.4M77.5 662.4V663.6M81.5 676.1V685.7M85.5 677.6V680.4M87.5 681.1V687.8M91.5 689.9V699.3M92.5 686.3V689.9M95.5 671.5V681M103.5 700.6V704.5M105.5 698.2V700.7M108.5 699.3V700.5M110.5 694V706M113.5 697.5V699.5M114.5 688.1V697.5M116.5 687.4V688.6M119.5 689V693.5M121.5 687.9V692.3M125.5 690.8V695.1M126.5 684.2V690.8M127.5 677.1V684.2M129.5 665.8V677.9M132.5 661.7V673.3M134.5 658.8V665.2M135.5 655.1V658.8M139.5 654.5V658.4M140.5 653.8V655M143.5 654.4V657.4M144.5 639.2V654.1M146.5 623.1V636.6M150.5 625.1V630.1M152.5 626.4V630.5M153.5 622.9V626.4M155.5 621.9V623.1M156.5 614.3V622M157.5 606V614.3M159.5 607.5V611.2M162.5 604.4V610M164.5 603.2V609.2M168.5 603.8V607.5M171.5 602.5V604.6M173.5 593.7V602.5M174.5 587.8V593.7M175.5 579.8V587.8M176.5 576.7V579.8M177.5 575.8V577M179.5 575.5V576.7M181.5 576.8V578.8M183.5 581.2V585.9M188.5 593.5V594.7M189.5 592V593.7M191.5 591.4V592.6M193.5 594.8V596.3M194.5 588.7V594.8M195.5 588V589.2M197.5 584.5V588.4M198.5 582.9V584.5M200.5 584.7V586M203.5 586.9V588.9M213.5 625.1V626.6M215.5 616.2V625.1M217.5 608.3V617.5M219.5 612.4V614.5M222.5 615.5V619.3M224.5 612.3V617.7M225.5 609V612.3M227.5 599.4V609M229.5 596.9V603M231.5 607.6V611.7M235.5 616.8V621.1M237.5 613.5V617.3M239.5 609.2V613.5M240.5 600.5V609.2M243.5 606.7V609.2M248.5 615.2V616.4M251.5 607.8V617.6M255.5 601.7V614.5M259.5 603.1V609.9M260.5 591.7V603.1M261.5 578.1V591.7M264.5 578.3V579.5M269.5 592V595.1M270.5 587.3V592M271.5 585.3V587.3M272.5 573.8V585.3M275.5 565.3V574.8M276.5 555.4V565.3M278.5 547.7V558.5M282.5 552.3V553.5M283.5 550.1V552.3M284.5 537.2V550.1M287.5 548.9V553.7M288.5 543.4V548.9M289.5 540.7V543.4M290.5 536.1V540.7M293.5 541.5V544.9M294.5 537.7V541.5M296.5 536V537.8M297.5 530.3V536M300.5 522.9V532.2M302.5 514.9V525M303.5 508.5V514.9M311.5 548.7V561.4M313.5 543.4V551.9M314.5 528.7V543.4M315.5 527.6V528.8M318.5 530.2V533.7M319.5 520.4V530.2M321.5 516.1V521.8M323.5 515.1V516.3M325.5 510.8V515.4M327.5 512.1V513.3M329.5 509.6V512.7M331.5 510.9V513.3M333.5 505.8V512.1M336.5 501.7V506.8M337.5 497.6V501.7M343.5 509V514.1M344.5 508.1V509.3M348.5 509.9V511.1M350.5 511.2V515.9M354.5 512V515.7M356.5 510.2V513.1M357.5 508.8V510.2M359.5 507.7V508.9M361.5 501.6V510.1M363.5 493.3V506.3M366.5 496.7V501.9M371.5 525.5V551.5M373.5 526.3V531.9M374.5 522.8V526.3M375.5 520.6V522.8M377.5 516.1V520.6M378.5 513.5V516.1M380.5 516.4V521.6M383.5 527.1V528.5M385.5 519.8V527.7M386.5 518.8V520M387.5 515V519M389.5 510.8V515M391.5 510.8V514.8M392.5 509.7V510.9M395.5 504.4V510.2M397.5 502.5V505.3M398.5 494.2V502.5M401.5 490.4V501.9M403.5 483.5V495.2M404.5 477.6V483.5M405.5 469V477.6M408.5 460V467.2M409.5 451.3V460M411.5 446.5V452.3M414.5 445.4V448.2M416.5 444.9V450.3M419.5 448.2V454.9M421.5 436.1V455.1M423.5 428V441.7M426.5 433.4V434.6M427.5 426.3V433.5M429.5 429.5V431.4M431.5 426.7V429.5M432.5 423.9V426.7M434.5 429.1V433.6M437.5 424.2V433M441.5 436.1V444.5M444.5 435.6V442.2M445.5 431.2V435.6M446.5 423V429.9M447.5 410.1V423M450.5 407.9V422.5M452.5 415.4V416.7M455.5 413.3V416.7M457.5 413.5V414.7M458.5 401.9V414.1M459.5 400.4V401.9M462.5 396.8V406.6M463.5 395.8V397M464.5 389V396M465.5 374.3V389M468.5 372.7V378.3M470.5 369V373.7M471.5 364.1V369M475.5 366.8V369.6M477.5 358.2V370.2M480.5 360V361.2M482.5 368.6V373.1M488.5 389V391.2M489.5 380V389M491.5 379.4V380.6M492.5 376V379.9M494.5 377.7V380.6M495.5 374.4V377.7M497.5 369.4V374.4M499.5 363.3V371.7M509.5 429.2V444.8M511.5 422.2V432.2M513.5 414.1V428.1M516.5 420.1V431.4M518.5 431.1V434.3M522.5 425.3V437.7M523.5 419.1V425.3M524.5 417.1V419.1M525.5 412.6V417.1M527.5 408.5V412.6M529.5 411V414.9M530.5 409.2V411M531.5 407.8V409.2M534.5 407V411.7M535.5 397.6V407M536.5 393.6V397.6M537.5 375.5V393.6M540.5 354.3V376.6M543.5 359V363.4M545.5 353.8V359M546.5 353.1V354.3M547.5 347.7V353.5M548.5 347.1V348.3M549.5 339.9V347.6M552.5 339.5V342.4M553.5 336.3V339.5M554.5 333.8V336.3M555.5 322.7V333.8M558.5 312.4V324.3M560.5 316.9V319.5M561.5 313.2V316.9M564.5 303.2V316.2M566.5 296.6V308.7M569.5 290.5V301.2M570.5 278.2V290.5M571.5 275.9V278.2M575.5 305.5V311.3M577.5 294.6V306.2M584.5 294.3V309.3M585.5 290.2V294.3M587.5 284V290.2M589.5 281.8V287.4M590.5 278V281.8M593.5 269.7V280M595.5 266.4V271.1M596.5 258.6V266.4M599.5 250.9V259.7M600.5 249.4V250.9M601.5 246.1V249.4M602.5 239.8V246.1M605.5 243.6V244.8M609.5 244.3V251.2M612.5 246V247.3M614.5 242.7V252.3M617.5 235.1V242.3M619.5 236.8V239.7M620.5 231.1V236.8M621.5 229.6V231.1M623.5 214.3V229.6M625.5 222.9V224.1M627.5 223.7V232M630.5 212V228.5M632.5 210.1V216.3M635.5 204.5V215M636.5 198.8V204.5M637.5 195.5V198.8M638.5 187.5V195.5M641.5 170.2V187.6M643.5 156.4V170.9M644.5 150.2V156.4M645.5 108.7V150.2M650.5 128.8V149.4M651.5 125.4V128.8M653.5 115.4V125.4M661.5 162.8V165.9M665.5 217.4V218.6M667.5 226.2V243.4M669.5 213.6V236.1M672.5 214.4V215.6M674.5 211.9V218.8M677.5 197.9V216.4M683.5 210.3V216.9M684.5 191.6V210.3M686.5 197.7V201.8M687.5 195.9V197.7M689.5 148.5V195.9M690.5 147.8V149M691.5 140.2V148.3M693.5 121.8V142.6M696.5 116.9V128.3M697.5 115.8V117M699.5 108.7V123.6M704.5 122.4V131.7M708.5 135.9V144M720.5 305.4V314.2M722.5 308V315.4M726.5 312.3V320.3M729.5 330.2V331.8M731.5 313.8V330.2M732.5 309V313.8M733.5 298.5V309M735.5 277.8V301.1M744.5 372.4V375.8M745.5 364.5V372.4M746.5 351.8V364.5M749.5 336.6V352.1M750.5 324V336.6M757.5 338.1V345.9M758.5 337.1V338.3M759.5 336.1V337.4M761.5 323V336.1M763.5 313V326.3M765.5 315.2V318.3M767.5 313.2V315.2M768.5 310.8V313.2M769.5 299.4V310.8M771.5 280.5V299.9M774.5 292.6V299.1M775.5 291.3V292.6M779.5 301.1V313.1M781.5 293.6V311.8M783.5 299.5V305.5M786.5 312.5V317M788.5 319.6V331.5M791.5 338.6V347.5M793.5 345.5V358.4M797.5 321.2V357.8M798.5 319.6V321.2M799.5 302.2V319.6M800.5 295.8V302.2M803.5 305.5V310.7M809.5 343.5V349.5M811.5 346.1V351.7M812.5 342.6V346.1M815.5 340.5V346.4M817.5 351.4V354.4M821.5 371.7V375.7M828.5 406V418M830.5 406.5V411.1M833.5 412V415.2M835.5 409.1V413M836.5 402.3V409.1M839.5 401.9V410.4M841.5 411.2V440M843.5 454.2V458.4M846.5 479.3V480.7M848.5 475.4V482.2M849.5 473V475.4M851.5 469.1V473M852.5 444.1V466.3M853.5 433.3V444.1M855.5 443.6V444.8M858.5 437.7V450M861.5 443.5V454M863.5 426.1V443.5M865.5 426.8V442.9M869.5 419.8V447.7M871.5 410.6V421M872.5 391.3V410.6M873.5 388.8V391.3M877.5 388.7V395.8M879.5 400.3V402.7M887.5 456.6V463.9M888.5 452.7V456.6M890.5 457.5V460.2M893.5 458.3V459.5M894.5 445.1V458.4M895.5 438.2V445.1M896.5 435.6V438.2M897.5 423.5V435.6M900.5 416.9V425.2M902.5 425.7V434.9M905.5 412.7V438.4M907.5 400.2V417.3M909.5 401.2V408.2M911.5 396.6V401.2M912.5 388.8V396.6M913.5 376.6V388.8M915.5 384.5V389.5M923.5 396.6V411.6M925.5 392.8V402.4M927.5 398.2V405.8M929.5 394.9V398.2M930.5 391.6V394.9M931.5 387.7V391.6M936.5 407.2V414.2M938.5 407.7V412.4M942.5 416V425.7M943.5 414.1V416M944.5 412.9V414.1M945.5 409.8V412.9M947.5 394.5V409.8M950.5 393.9V395.8M955.5 402.7V408.7M956.5 396.4V402.7M957.5 394V396.4M963.5 402.9V409.7M969.5 421.8V423.2M971.5 418V421.8M972.5 415V418M974.5 422.7V426.3M975.5 422V423.2M977.5 419.5V422.5M978.5 409.4V419.5M980.5 409.5V418.6M990.5 452.8V457M995.5 463.7V464.9M997.5 458.1V468.9M998.5 455V458.1M999.5 451V455M1001.5 439.6V450.4M1003.5 430.2V441.3M1009.5 436V439.8M1010.5 427.3V436M1013.5 426.9V428.4M1016.5 419.4V427.9M1019.5 424.1V428.5M1023.5 430V431.2M1026.5 429.6V435.4M1027.5 425.3V429.6M1028.5 423.9V425.3M1029.5 415.3V423.9M1031.5 404.4V415.3M1033.5 400.1V406.5M1035.5 399.8V403.6M1038.5 402.2V406.5M1043.5 428.8V430.4M1044.5 422.2V428.8M1046.5 423.9V426.9M1049.5 421.5V428.4M1050.5 413.7V421.5M1052.5 415.1V421.3M1053.5 414V415.2M1056.5 408.7V419.5M1058.5 404V410.2M1061.5 405.9V407.1M1067.5 410.5V419.2M1068.5 404.9V410.5M1069.5 403.6V404.9M1071.5 404.4V412.9M1075.5 397.5V406.6M1077.5 368.6V399M1080.5 361.6V379.2M1082.5 353.5V363M1083.5 345.6V353.5M1086.5 343.8V348.5M1088.5 336.8V344.7M1091.5 337.9V342.9M1092.5 336.1V337.9M1094.5 337.1V341.2M1095.5 329.6V337.1M1097.5 327.6V329.6M1098.5 325.7V327.6M1099.5 318.9V325.5M1100.5 313.9V318.9M1101.5 310.4V313.9M1104.5 303.1V319.1M1105.5 298.9V303.1M1107.5 299.7V300.9M1110.5 300.6V303.4M1112.5 301.1V311.1M1113.5 299.6V301.1M1116.5 298.6V301.4M1122.5 318.9V327M1124.5 317.6V324.1M1125.5 316.4V317.6M1127.5 310.9V316.2M1128.5 307.2V310.9M1129.5 302.6V307.2M1131.5 305.1V308.3M1137.5 308.9V325.7M1140.5 309V319.2M1143.5 299.7V313.7M1146.5 295.1V313M1147.5 279.4V295.1M1148.5 253.1V279.4M1151.5 252.6V253.8M1154.5 253V257.4M1157.5 253.7V262.4M1159.5 256.7V263.2M1160.5 248.5V256.7M1163.5 244.7V249.6M1165.5 235.8V250.6M1166.5 234.2V235.8M1167.5 224.2V234.2M1170.5 228.3V233.7M1179.5 275.3V298.5M1182.5 267.6V280.1M1184.5 268.4V269.6M1185.5 245.9V268.6M1188.5 249.4V254.3M1191.5 270.3V275.9M1194.5 262.4V271M1201.5 342.5V355.4" stroke="#1a1b20" stroke-width="1.4"/>
<path d="M13.5 697.7V701.2M18.5 684.1V690.7M21.5 660.6V661.8M25.5 657.2V660.7M26.5 660.3V661.5M27.5 661.1V664.7M31.5 660.2V661.4M32.5 661.3V664.6M33.5 664.1V665.3M37.5 653.7V654.9M39.5 647.9V652.1M43.5 648.9V650.1M44.5 649.8V652.2M47.5 649.1V652.9M49.5 651.4V654.2M51.5 653.4V655.7M54.5 653.5V654.7M56.5 652.5V653.7M57.5 653.7V659.7M60.5 655.7V667.1M62.5 660.5V663M63.5 663V667.6M65.5 667.6V670.3M66.5 670.3V675.8M68.5 670.2V679.2M73.5 664V665.4M75.5 662.5V663.7M78.5 662.6V670.9M79.5 670.9V678.4M80.5 678.4V685.7M83.5 676.1V680.3M84.5 679.7V680.9M86.5 681.2V687.8M89.5 681.1V692.2M90.5 692.2V699.3M93.5 680.4V681.6M96.5 671.5V680.3M97.5 680.3V682.7M98.5 682.7V690.9M99.5 690.9V698M101.5 698V702.5M102.5 702.5V704.5M104.5 700.1V701.3M107.5 698.2V700.3M109.5 699.4V706M111.5 694V703.7M115.5 687.5V688.7M117.5 687.7V693.5M120.5 689V692.3M122.5 687.9V689.6M123.5 689.6V695.1M128.5 676.9V678.1M131.5 665.8V673.3M133.5 661.7V665.2M137.5 655.1V657.4M138.5 657.3V658.5M141.5 654.3V657.4M145.5 638.8V640M147.5 623.1V626.3M149.5 626.3V630.1M151.5 625.1V630.5M158.5 606V611.2M161.5 607.5V610.2M163.5 604.4V609.2M165.5 603.2V605.1M167.5 605.1V607.5M169.5 603.4V604.6M170.5 603.8V605M180.5 575.9V578.8M182.5 576.8V585.9M185.5 581.2V586M186.5 586V592.2M187.5 592.2V594.5M192.5 591.9V596.3M199.5 582.9V586M201.5 584.7V588.9M204.5 586.9V588.8M205.5 588.2V589.4M206.5 588.9V593.5M207.5 593.5V607.5M209.5 607.5V608.9M210.5 608.9V620.9M211.5 620.9V625M212.5 625V626.6M216.5 616.2V617.5M218.5 608.3V614.5M221.5 612.4V619.3M223.5 615.5V618.5M228.5 599.4V603M230.5 596.9V611.7M233.5 607.6V620.8M234.5 620.3V621.5M236.5 616.5V617.7M241.5 600.5V608.4M242.5 608.2V609.4M245.5 606.7V609.8M246.5 609.8V614.1M247.5 614.1V616.3M249.5 615.3V617.6M252.5 607.8V611.9M253.5 611.9V614.2M254.5 613.7V614.9M257.5 601.7V607.7M258.5 607.7V609.9M263.5 578.1V579.3M265.5 578.5V585.4M266.5 585.4V591.2M267.5 591.2V595.1M273.5 573.7V574.9M277.5 555.4V558.5M279.5 547.7V553.4M281.5 552.8V554M285.5 537.2V553.7M291.5 536.1V544.9M295.5 537.1V538.3M299.5 530.3V532.2M301.5 522.9V525M305.5 508.5V510M306.5 510V525.2M307.5 525.2V542.7M308.5 542.7V551.5M309.5 551.5V561.4M312.5 548.7V551.9M317.5 527.7V534M320.5 520.4V521.8M324.5 515.4V516.9M326.5 510.8V512.7M330.5 509.6V513.3M332.5 510.9V512.5M335.5 505.7V506.9M338.5 497.6V499.3M339.5 499.3V500.8M341.5 500.8V503.7M342.5 503.7V514.1M345.5 508.5V510.4M347.5 510.2V511.4M349.5 510.5V515.9M351.5 512.1V515.4M353.5 514.9V516.1M355.5 512V513.2M360.5 507.7V510.1M362.5 501.6V508.8M365.5 493.3V501.9M367.5 496.7V501.3M368.5 501.3V516.7M369.5 516.7V551.5M372.5 525.5V531.9M379.5 513.5V521.6M381.5 516.4V528.5M384.5 526.8V528M390.5 510.8V514.8M393.5 509.4V510.6M396.5 504.4V507.6M399.5 494.2V501.9M402.5 490.4V496.9M407.5 468.6V469.8M410.5 451.3V452.8M413.5 446.5V448.2M415.5 445.4V450.3M417.5 444.9V454.9M420.5 448.2V455.1M422.5 436.1V442.2M425.5 428V435.6M428.5 428.5V431.4M433.5 423.9V433.6M435.5 429.1V433M438.5 424V425.2M439.5 424.9V433.6M440.5 433.6V444.5M443.5 436.1V442.2M449.5 410.1V422.5M451.5 407.9V416.7M453.5 415.4V416.7M456.5 413.1V414.3M461.5 400.4V406.6M467.5 374.3V378.3M469.5 372.6V373.8M473.5 364.1V365.8M474.5 365.8V369.6M476.5 366.8V370.2M479.5 358.2V360.9M481.5 360.3V373.1M483.5 368.6V375.7M485.5 375.7V384.2M486.5 384.2V388.9M487.5 388.9V391.2M493.5 376V380.6M498.5 369.4V371.7M500.5 363.3V368.9M501.5 368.5V369.7M503.5 369.2V392.1M504.5 392.1V395.9M505.5 395.9V414.8M506.5 414.8V434.6M507.5 434.6V444.8M510.5 429.2V432.2M512.5 422.2V428.1M515.5 414.1V431.4M517.5 420.1V434.3M519.5 431.1V436.5M521.5 436.5V437.7M528.5 408.5V414.9M533.5 407.8V411.7M539.5 375.4V376.6M541.5 354.3V362.9M542.5 362.5V363.7M551.5 339.9V342.4M557.5 322.7V324.3M559.5 312.5V323M563.5 313.2V316.3M565.5 303.2V308.7M567.5 296.6V301.2M572.5 275.9V277.5M573.5 277.5V311.3M576.5 305.2V306.4M578.5 294.6V299M579.5 298.6V299.8M581.5 299.3V300.5M582.5 300V307.1M583.5 307.1V309.3M588.5 284V287.4M591.5 278V280M594.5 269.7V271.1M597.5 258.5V259.7M603.5 239.8V244.5M606.5 243.8V247.3M607.5 247.3V250.4M608.5 250.2V251.4M611.5 244.3V247.3M613.5 246V252.3M615.5 242.7V246.8M618.5 235.1V239.7M624.5 214.3V224M626.5 223V232M629.5 223.7V229.8M631.5 212V224.9M633.5 210.1V215M639.5 187V188.2M642.5 170V171.2M647.5 108.7V127.6M648.5 127.6V132.9M649.5 132.9V149.4M654.5 115.4V124M655.5 124V125.6M656.5 125.6V134.3M657.5 133.7V134.9M659.5 134.3V144.3M660.5 144.3V165.9M662.5 162.8V208.1M663.5 208.1V218.4M666.5 217.7V243.4M668.5 226.2V236.1M671.5 213.6V215.1M673.5 214.9V218.8M675.5 211.9V216.4M678.5 197.9V200.8M679.5 200.7V201.9M680.5 201.8V203M681.5 203V216.9M685.5 191.6V201.8M692.5 140.2V145.6M695.5 121.8V128.3M698.5 115.9V123.6M701.5 111.4V114.7M702.5 114.7V123.4M703.5 123.4V131.7M705.5 124.7V139M707.5 139V144M709.5 135.9V160.8M710.5 160.8V178.9M711.5 178.9V200.4M713.5 200.4V201.7M714.5 201.7V207.1M715.5 207.1V234.7M716.5 234.7V255.9M717.5 255.9V304M719.5 304V314.2M721.5 305.4V315.4M723.5 307.8V309M725.5 308.7V320.3M727.5 312.3V331.3M728.5 330.9V332.1M734.5 298.5V301.1M737.5 277.8V307M738.5 307V319.5M739.5 319.5V336.2M740.5 336.2V357M741.5 357V375.3M743.5 374.9V376.1M747.5 351.4V352.6M751.5 324V328.1M752.5 328.1V330.5M753.5 330.5V331.7M755.5 331.4V332.6M756.5 332.4V345.9M762.5 323V326.3M764.5 313V318.7M770.5 299.1V300.3M773.5 280.5V299.1M776.5 291V292.2M777.5 293.8V313.1M780.5 301.1V311.8M782.5 293.6V305.5M785.5 299.5V317M787.5 312.5V331.5M789.5 319.6V347.5M792.5 338.6V358.4M794.5 345.5V355.1M795.5 355.1V357.8M801.5 295.8V310.7M804.5 308.2V315.5M805.5 315.5V327.5M806.5 327.5V329.6M807.5 329.6V349.5M810.5 343.5V351.7M813.5 342.6V346.4M816.5 340.5V354.4M818.5 351.4V362.3M819.5 362.3V375.7M822.5 371.7V383.1M823.5 383.1V384.4M824.5 384.4V399.7M825.5 399.7V406.2M827.5 406.2V418M829.5 406V411.1M831.5 406.5V415.2M834.5 411.9V413.1M837.5 402.3V410.4M840.5 406.6V440M842.5 424.2V458.4M845.5 454.2V480.7M847.5 479.3V482.2M854.5 433.3V444.5M857.5 443.8V450M859.5 439.5V452.9M860.5 452.8V454M864.5 426.1V442.9M866.5 426.8V445.3M867.5 445.3V447.7M870.5 419.8V421M875.5 388.5V389.7M876.5 389.4V395.8M878.5 388.7V402.7M881.5 402.2V413.3M882.5 413.3V429.1M883.5 429.1V434.9M884.5 434.9V455.1M885.5 455.1V463.9M889.5 452.7V460.2M891.5 457.5V459.3M899.5 423.5V425.2M901.5 416.9V434.9M903.5 425.7V438.4M906.5 412.7V417.3M908.5 400.2V408.2M914.5 376.6V389.5M917.5 384.5V397.3M918.5 397.3V400.5M919.5 400.5V402.2M920.5 402.2V409.2M921.5 409.2V411.6M924.5 396.6V402.4M926.5 392.8V405.8M932.5 387.7V390.4M933.5 390.4V402.4M935.5 402.4V414.2M937.5 407.2V412.4M939.5 407.7V416.2M941.5 416.2V425.7M948.5 393.9V395.1M949.5 394.5V395.8M951.5 393.9V401.4M953.5 401.4V403.3M954.5 403.3V408.7M959.5 394V395.4M960.5 395.4V397M961.5 397V400.6M962.5 400.6V409.7M965.5 402.8V404M966.5 403.9V409.9M967.5 409.9V415.9M968.5 415.9V423.2M973.5 415V426.3M979.5 409.4V418.6M981.5 409.5V417.1M983.5 417.1V421.4M984.5 421.4V439.7M985.5 439.7V442M986.5 442V446.2M987.5 446.2V454M989.5 454V457M991.5 455.2V461.7M992.5 461.7V464.5M993.5 463.9V465.1M996.5 464V468.9M1002.5 439.6V446.4M1004.5 430.2V432.1M1005.5 431.9V433.1M1007.5 432.9V438.9M1008.5 438.7V439.9M1011.5 427.2V428.4M1014.5 426.6V427.8M1015.5 427.1V428.3M1017.5 419.4V428.5M1020.5 424.1V429.5M1021.5 429.4V430.6M1022.5 430.1V431.3M1025.5 430.4V435.4M1032.5 404.4V406.5M1034.5 400.1V403.6M1037.5 399.8V406.5M1039.5 402.2V419.5M1040.5 419.5V424.6M1041.5 424.6V430.4M1045.5 422.2V426.9M1047.5 423.9V428.4M1051.5 413.7V421.3M1055.5 414.1V419.5M1057.5 408.7V410.2M1059.5 404V406.8M1062.5 405.9V407.1M1063.5 406.6V413.1M1064.5 413.1V416M1065.5 416V419.2M1070.5 403.6V412.9M1073.5 404.4V406.3M1074.5 405.8V407M1076.5 397.5V399M1079.5 368.6V381.8M1081.5 361.6V363M1085.5 345.6V348.5M1087.5 343.6V344.8M1089.5 336.8V342.9M1093.5 336.1V341.2M1103.5 310.4V319.1M1106.5 298.9V300.7M1109.5 299.8V303.4M1111.5 300.6V311.2M1115.5 299.6V301.4M1117.5 298.4V299.6M1118.5 299.4V301.9M1119.5 301.7V302.9M1121.5 302.7V327M1123.5 318.9V324.1M1130.5 302.6V308.3M1133.5 305.1V311.8M1134.5 311.8V322.1M1135.5 322.1V324.1M1136.5 324.1V325.7M1139.5 308.9V319.2M1141.5 308.5V309.7M1142.5 309.3V314M1145.5 299.7V313M1149.5 252.8V254M1152.5 252.6V253.8M1153.5 253.7V257.4M1155.5 253V262.4M1158.5 253.7V263.2M1161.5 248.5V249.7M1164.5 244.7V250.9M1169.5 224.2V233.7M1171.5 228.2V229.4M1172.5 229.4V240.4M1173.5 240.4V253.3M1175.5 253.1V254.3M1176.5 253.8V255M1177.5 254.7V263.6M1178.5 263.6V298.5M1181.5 275.3V280.1M1183.5 267.6V269.5M1187.5 245.9V254.3M1189.5 249.4V259M1190.5 259V275.9M1193.5 270.1V271.3M1195.5 262.4V285.7M1196.5 285.7V299.7M1197.5 299.7V316.1M1199.5 316.1V344.7M1200.5 344.7V355.4M1202.5 327.5V338.6" stroke="#4d1010" stroke-width="1.4"/>
<polyline points="12.7,697.7 13.9,697.4 15.1,696.9 16.3,696.3 17.5,695.5 18.7,693.5 19.9,688.1 21.1,682.1 22.3,677.3 23.5,673.5 24.7,670.5 25.9,668.4 27.1,667 28.3,666.1 29.5,665.4 30.7,664.7 31.9,664.2 33.1,663.8 34.3,663.4 35.5,662.3 36.7,660.6 37.9,658.6 39.1,656.8 40.3,655.1 41.5,653.5 42.7,652.5 43.9,651.9 45.1,651.6 46.3,651.6 47.5,651.7 48.7,652 49.9,652.4 51.1,652.9 52.3,653.5 53.5,653.8 54.7,653.8 55.9,653.5 57.1,653.4 58.3,654.1 59.5,655.3 60.7,656.6 61.9,657.9 63.1,659.4 64.3,661.2 65.5,663.2 66.7,665.3 67.9,667.4 69.1,669.4 70.3,670.4 71.5,670.3 72.7,669.2 73.9,667.8 75.1,666.5 76.3,665.2 77.5,664.5 78.7,665.7 79.9,668.6 81.1,671.6 82.3,673.5 83.5,674.7 84.7,675.9 85.9,677.2 87.1,678.6 88.3,680.1 89.5,682.3 90.7,684.9 91.9,686.2 93.1,686 94.3,684.8 95.5,682.8 96.7,681.9 97.9,681.9 99.1,683.7 100.3,686.6 101.5,690 102.7,692.4 103.9,694.1 105.1,695.3 106.3,696.4 107.5,697.4 108.7,698.3 109.9,699.2 111.1,699.5 112.3,699.2 113.5,698.4 114.7,696.9 115.9,695 117.1,693.6 118.3,693 119.5,692.7 120.7,692.3 121.9,691.8 123.1,691.3 124.3,691.3 125.5,692.2 126.7,689.9 127.9,687.1 129.1,684.4 130.3,681.5 131.5,678.3 132.7,675 133.9,672.1 135.1,669.5 136.3,667.1 137.5,664.9 138.7,663 139.9,661.3 141.1,659.7 142.3,658 143.5,656.3 144.7,653 145.9,648.5 147.1,644.5 148.3,640.7 149.5,637.7 150.7,635.4 151.9,633.7 153.1,632.1 154.3,630.1 155.5,627.9 156.7,625 157.9,621.6 159.1,618.7 160.3,616.4 161.5,614.5 162.7,612.9 163.9,611.5 165.1,610.2 166.3,608.9 167.5,607.8 168.7,607.1 169.9,606.6 171.1,606 172.3,604.8 173.5,603.2 174.7,599.5 175.9,594.2 177.1,590.2 178.3,587.2 179.5,584.9 180.7,583.5 181.9,583 183.1,582.9 184.3,582.8 185.5,583.3 186.7,586.2 187.9,588 189.1,589 190.3,589.6 191.5,590.4 192.7,591.3 193.9,591.8 195.1,591.6 196.3,591 197.5,590 198.7,588.8 199.9,587.6 201.1,587 202.3,587.2 203.5,588 204.7,588.5 205.9,588.5 207.1,589.9 208.3,593.6 209.5,597.6 210.7,602 211.9,606.1 213.1,610.1 214.3,612.7 215.5,613.8 216.7,613.9 217.9,613.2 219.1,612.6 220.3,613.2 221.5,614.6 222.7,615.2 223.9,615.3 225.1,614.8 226.3,613.3 227.5,611.1 228.7,608.8 229.9,607.3 231.1,606.6 232.3,607.8 233.5,610.1 234.7,612.9 235.9,614.7 237.1,615.8 238.3,615 239.5,612.9 240.7,611.3 241.9,610.5 243.1,610.3 244.3,610.4 245.5,610.8 246.7,611.5 247.9,612.6 249.1,613.4 250.3,613.4 251.5,612.7 252.7,612 253.9,611.9 255.1,611.8 256.3,610.9 257.5,609.8 258.7,609.2 259.9,609.1 261.1,605.3 262.3,600.2 263.5,596.1 264.7,592.7 265.9,590.7 267.1,590.1 268.3,590.5 269.5,591.2 270.7,591.6 271.9,589.6 273.1,586.7 274.3,583.5 275.5,579.8 276.7,575.5 277.9,570.9 279.1,566.2 280.3,562.9 281.5,560.9 282.7,558.7 283.9,556 285.1,553.6 286.3,552.5 287.5,551.9 288.7,550.1 289.9,547.6 291.1,545.9 292.3,544.9 293.5,544.2 294.7,543.3 295.9,542.2 297.1,540.9 298.3,538.9 299.5,536.5 300.7,533.8 301.9,530.6 303.1,526.7 304.3,522.8 305.5,520 306.7,522 307.9,526.9 309.1,533 310.3,538.7 311.5,542 312.7,543.6 313.9,543.7 315.1,540.7 316.3,537.8 317.5,535.9 318.7,534.1 319.9,531.8 321.1,529.3 322.3,526.7 323.5,524.2 324.7,521.7 325.9,519.3 327.1,517.1 328.3,515.5 329.5,514.8 330.7,514.3 331.9,513.6 333.1,512.7 334.3,511.5 335.5,509.9 336.7,507.6 337.9,504.9 339.1,503.6 340.3,503.5 341.5,504.2 342.7,505.4 343.9,506.4 345.1,507.3 346.3,508.1 347.5,508.9 348.7,509.9 349.9,510.7 351.1,511.5 352.3,512.2 353.5,512.7 354.7,512.7 355.9,512.4 357.1,511.9 358.3,511.2 359.5,510.4 360.7,509.4 361.9,508.3 363.1,507 364.3,505.4 365.5,503.3 366.7,502.3 367.9,502.5 369.1,507.8 370.3,515.2 371.5,519.8 372.7,522.2 373.9,523.2 375.1,523 376.3,522.3 377.5,521.2 378.7,520.3 379.9,519.6 381.1,519.9 382.3,521.2 383.5,522.5 384.7,522.9 385.9,522.7 387.1,521.8 388.3,520.5 389.5,519.3 390.7,518.2 391.9,517.2 393.1,515.9 394.3,514.4 395.5,512.5 396.7,510.3 397.9,508.2 399.1,506.3 400.3,504.5 401.5,502.5 402.7,500.3 403.9,496.9 405.1,491.7 406.3,486.9 407.5,482.3 408.7,477.9 409.9,473.4 411.1,468.9 412.3,464.4 413.5,460.9 414.7,458 415.9,455.6 417.1,454 418.3,453 419.5,452.7 420.7,451.9 421.9,449.8 423.1,447 424.3,444.1 425.5,441.3 426.7,439.1 427.9,437.4 429.1,436 430.3,434.4 431.5,432.9 432.7,431.5 433.9,431 435.1,431.1 436.3,430.5 437.5,429.4 438.7,429 439.9,430 441.1,432.3 442.3,434.2 443.5,435.6 444.7,435.4 445.9,433.9 447.1,431.2 448.3,427.6 449.5,424.5 450.7,421.8 451.9,420.1 453.1,419.3 454.3,418.7 455.5,418.1 456.7,417.1 457.9,415.7 459.1,413.9 460.3,412 461.5,409.8 462.7,407.2 463.9,404 465.1,399.7 466.3,395.1 467.5,390.7 468.7,386.7 469.9,383.1 471.1,379.7 472.3,376.8 473.5,374.9 474.7,373.6 475.9,372.5 477.1,370.9 478.3,368.8 479.5,366.9 480.7,366.1 481.9,366.3 483.1,367.3 484.3,369.2 485.5,372.1 486.7,376.1 487.9,378.9 489.1,380.5 490.3,380.9 491.5,380.1 492.7,379.2 493.9,378.8 495.1,378.6 496.3,377.6 497.5,376.2 498.7,374.8 499.9,373.3 501.1,371.2 502.3,371.3 503.5,375.1 504.7,380.6 505.9,388.6 507.1,399.6 508.3,408.1 509.5,413.8 510.7,417.6 511.9,420 513.1,421.2 514.3,421.1 515.5,421.2 516.7,422.2 517.9,424.2 519.1,427.2 520.3,429.4 521.5,430.7 522.7,429.9 523.9,427 525.1,424.2 526.3,421.5 527.5,419.7 528.7,418.6 529.9,417.6 531.1,416 532.3,415.6 533.5,415.6 534.7,413.9 535.9,410.7 537.1,406.2 538.3,400 539.5,393.3 540.7,386.5 541.9,381.3 543.1,377.1 544.3,373.4 545.5,369.5 546.7,365.2 547.9,361 549.1,357.3 550.3,354.1 551.5,351.2 552.7,348.6 553.9,345.8 555.1,342.5 556.3,338.8 557.5,335 558.7,331.5 559.9,328.3 561.1,325.4 562.3,322.9 563.5,320.6 564.7,318.3 565.9,315.6 567.1,312.8 568.3,309.3 569.5,305.1 570.7,300.4 571.9,295.1 573.1,291.6 574.3,293.7 575.5,297.5 576.7,298.7 577.9,297.9 579.1,297.9 580.3,298.5 581.5,299.7 582.7,301.4 583.9,302 585.1,300.7 586.3,298.4 587.5,296.1 588.7,293.8 589.9,291.3 591.1,288.7 592.3,286 593.5,283.1 594.7,280.2 595.9,276.7 597.1,272.7 598.3,269 599.5,265.6 600.7,262 601.9,258.1 603.1,254.1 604.3,251.2 605.5,249.7 606.7,249.1 607.9,249.2 609.1,249.4 610.3,249 611.5,248.3 612.7,248.1 613.9,248.3 615.1,247.8 616.3,246.6 617.5,244.8 618.7,243.1 619.9,241.3 621.1,239.4 622.3,236.3 623.5,233 624.7,230.1 625.9,228.8 627.1,229.5 628.3,229.2 629.5,228.4 630.7,226.8 631.9,224.7 633.1,222.1 634.3,219.5 635.5,216.9 636.7,213.7 637.9,209.8 639.1,205.4 640.3,200.4 641.5,194.6 642.7,188.3 643.9,181 645.1,172.3 646.3,161.6 647.5,152.7 648.7,148 649.9,147.5 651.1,144.4 652.3,140 653.5,134.7 654.7,132.1 655.9,131.5 657.1,132.5 658.3,134.3 659.5,136.4 660.7,140.8 661.9,148.3 663.1,158.7 664.3,170.3 665.5,181.3 666.7,191.5 667.9,201.2 669.1,206.1 670.3,209.2 671.5,210.9 672.7,211.3 673.9,211.4 675.1,212.8 676.3,212.5 677.5,210.6 678.7,208.5 679.9,206.5 681.1,206.1 682.3,207.7 683.5,207.2 684.7,205.5 685.9,204.5 687.1,202.9 688.3,198.1 689.5,189.1 690.7,179.6 691.9,170.4 693.1,162.2 694.3,155.2 695.5,148.5 696.7,141.7 697.9,135.1 699.1,130.8 700.3,127.9 701.5,125.4 702.7,124.5 703.9,125.8 705.1,127.6 706.3,129.5 707.5,131.6 708.7,133.8 709.9,138.3 711.1,147.6 712.3,158 713.5,167.6 714.7,175.9 715.9,187 717.1,204.1 718.3,225.1 719.5,243.5 720.7,258.7 721.9,271 723.1,280.1 724.3,286.8 725.5,292 726.7,297 727.9,302.2 729.1,309 730.3,313.4 731.5,313.9 732.7,312.1 733.9,309.3 735.1,305.7 736.3,301.3 737.5,301.1 738.7,305 739.9,312.2 741.1,322.3 742.3,332.9 743.5,342 744.7,349 745.9,352.2 747.1,352.7 748.3,351.6 749.5,348.8 750.7,344.7 751.9,340.5 753.1,337.8 754.3,336.3 755.5,336.2 756.7,337.2 757.9,337.3 759.1,336.7 760.3,335.4 761.5,333.5 762.7,330.8 763.9,327.6 765.1,324.3 766.3,321.7 767.5,319.5 768.7,317 769.9,314.1 771.1,309.8 772.3,304.7 773.5,301.6 774.7,299.9 775.9,299.2 777.1,299.3 778.3,300.3 779.5,302.2 780.7,303 781.9,302.8 783.1,302.3 784.3,302.8 785.5,304.8 786.7,307.4 787.9,310.6 789.1,314.5 790.3,319.4 791.5,324.9 792.7,331 793.9,337.1 795.1,342.1 796.3,343.6 797.5,341.3 798.7,335.6 799.9,329 801.1,322.4 802.3,319.2 803.5,318.2 804.7,317.9 805.9,318.9 807.1,322.7 808.3,327.2 809.5,330.9 810.7,334 811.9,337 813.1,339.7 814.3,341.1 815.5,341.4 816.7,342.8 817.9,345.1 819.1,349.3 820.3,354.5 821.5,359.1 822.7,363.4 823.9,368.4 825.1,374 826.3,381.5 827.5,388.4 828.7,392.9 829.9,396 831.1,398.9 832.3,401.8 833.5,404.3 834.7,406.2 835.9,407.3 837.1,406.3 838.3,406.6 839.5,408.8 840.7,412.4 841.9,417.1 843.1,424.1 844.3,432.3 845.5,441.3 846.7,450.3 847.9,457.2 849.1,461.2 850.3,462.7 851.5,462.2 852.7,458.8 853.9,454.9 855.1,452.1 856.3,450.1 857.5,448.8 858.7,448 859.9,448.3 861.1,449.4 862.3,447.9 863.5,444.4 864.7,442.4 865.9,441.3 867.1,441.3 868.3,441.6 869.5,438.9 870.7,434.2 871.9,427.9 873.1,420.5 874.3,414 875.5,408.7 876.7,405.1 877.9,403.1 879.1,402.8 880.3,403.7 881.5,406.2 882.7,409.9 883.9,416.2 885.1,424.9 886.3,433.2 887.5,439.2 888.7,442.8 889.9,445.5 891.1,448.1 892.3,451.2 893.5,452 894.7,449.8 895.9,447.2 897.1,444.2 898.3,440.8 899.5,436.9 900.7,434 901.9,432.6 903.1,432 904.3,432 905.5,429 906.7,425.1 907.9,421.5 909.1,417.9 910.3,414.1 911.5,410 912.7,405.4 913.9,400.2 915.1,396.2 916.3,393.9 917.5,393.7 918.7,394.9 919.9,397 921.1,399.2 922.3,400.4 923.5,400.9 924.7,400.3 925.9,399.4 927.1,399.6 928.3,399.9 929.5,399.2 930.7,397.7 931.9,396.4 933.1,396.2 934.3,398.8 935.5,402.1 936.7,404.1 937.9,405.4 939.1,406.8 940.3,408.3 941.5,411.2 942.7,413.6 943.9,413.9 945.1,412.9 946.3,411 947.5,408.5 948.7,406 949.9,403.7 951.1,401.8 952.3,401.1 953.5,402.6 954.7,403.6 955.9,403.8 957.1,403.1 958.3,401.6 959.5,399.7 960.7,399 961.9,399.9 963.1,400.8 964.3,401.3 965.5,401.5 966.7,403.2 967.9,405.9 969.1,409.3 970.3,411.8 971.5,413.3 972.7,414.9 973.9,416.9 975.1,419 976.3,420.1 977.5,419.4 978.7,418.3 979.9,417.2 981.1,416.6 982.3,417.1 983.5,418.5 984.7,421.2 985.9,425.7 987.1,430.5 988.3,434.8 989.5,438.9 990.7,443 991.9,446.8 993.1,450.3 994.3,453.4 995.5,456.1 996.7,457.7 997.9,458 999.1,456.7 1000.3,454.1 1001.5,451.2 1002.7,448 1003.9,444.9 1005.1,441.8 1006.3,439.9 1007.5,439.1 1008.7,439.1 1009.9,438.3 1011.1,436.7 1012.3,435 1013.5,433.3 1014.7,431.5 1015.9,430.1 1017.1,429.1 1018.3,428.2 1019.5,427.9 1020.7,428 1021.9,428.6 1023.1,429.6 1024.3,430.3 1025.5,430.5 1026.7,430.3 1027.9,429.5 1029.1,428.2 1030.3,425.8 1031.5,421.8 1032.7,417.6 1033.9,414.6 1035.1,412.6 1036.3,410 1037.5,408 1038.7,407 1039.9,409.4 1041.1,412.9 1042.3,416.2 1043.5,418.8 1044.7,420.5 1045.9,421.6 1047.1,422.7 1048.3,423.5 1049.5,423.3 1050.7,422.2 1051.9,420.9 1053.1,420.1 1054.3,419.6 1055.5,418.5 1056.7,416.8 1057.9,414.8 1059.1,412.7 1060.3,411.2 1061.5,410.5 1062.7,410.5 1063.9,411.1 1065.1,412.1 1066.3,413.7 1067.5,412.6 1068.7,411.2 1069.9,410.8 1071.1,410.5 1072.3,410.3 1073.5,409.9 1074.7,409.2 1075.9,407.7 1077.1,405 1078.3,398.1 1079.5,392.2 1080.7,386.8 1081.9,381.4 1083.1,375.8 1084.3,370.3 1085.5,365.5 1086.7,361.2 1087.9,357.5 1089.1,354.3 1090.3,351.1 1091.5,347.8 1092.7,345.7 1093.9,344.5 1095.1,342.7 1096.3,340.4 1097.5,337.6 1098.7,334.3 1099.9,331.1 1101.1,328.1 1102.3,325.1 1103.5,321.8 1104.7,318.3 1105.9,314.7 1107.1,311.2 1108.3,308.5 1109.5,307.4 1110.7,307 1111.9,307.2 1113.1,306.3 1114.3,304.7 1115.5,303.6 1116.7,302.9 1117.9,302.2 1119.1,301.5 1120.3,303.4 1121.5,307.2 1122.7,310.2 1123.9,312.5 1125.1,313.4 1126.3,313.2 1127.5,312.2 1128.7,310.8 1129.9,309.4 1131.1,308.5 1132.3,308.4 1133.5,309.5 1134.7,311.8 1135.9,314.5 1137.1,316.2 1138.3,316.4 1139.5,315.7 1140.7,314.3 1141.9,313 1143.1,311.8 1144.3,310.8 1145.5,310 1146.7,307.7 1147.9,300.9 1149.1,291.6 1150.3,282.6 1151.5,275.5 1152.7,270.7 1153.9,267.4 1155.1,264.9 1156.3,262.8 1157.5,262.1 1158.7,261.6 1159.9,260.4 1161.1,257.9 1162.3,255.3 1163.5,253.2 1164.7,251.2 1165.9,248.1 1167.1,244.5 1168.3,241 1169.5,238.4 1170.7,235.7 1171.9,234.1 1173.1,236.5 1174.3,240.3 1175.5,243.5 1176.7,245.9 1177.9,251.4 1179.1,259.1 1180.3,264.1 1181.5,266.8 1182.7,267.8 1183.9,267.8 1185.1,266.4 1186.3,263.5 1187.5,261.1 1188.7,259.6 1189.9,259.4 1191.1,261.6 1192.3,264.9 1193.5,266.1 1194.7,267.9 1195.9,271 1197.1,277.5 1198.3,286.7 1199.5,299.8 1200.7,311 1201.9,317.9 1203.1,321.9" stroke="#c6c7cb" stroke-width="1.25" stroke-linejoin="round"/>
<polyline points="11.5,706.5 12.5,706 13.5,705.5 14.5,705.1 15.5,704.6 16.5,704.1 17.5,703.6 18.5,703.1 19.5,702.7 20.5,702.2 21.5,701.7 22.5,701.3 23.5,700.8 24.5,700.3 25.5,699.9 26.5,699.4 27.5,698.9 28.5,698.5 29.5,698 30.5,697.5 31.5,697.1 32.5,696.6 33.5,696.1 34.5,695.6 35.5,695.1 36.5,694.7 37.5,694.2 38.5,693.7 39.5,693.3 40.5,692.8 41.5,692.4 42.5,692 43.5,691.6 44.5,691.2 45.5,690.8 46.5,690.5 47.5,690.1 48.5,689.8 49.5,689.4 50.5,689.1 51.5,688.7 52.5,688.4 53.5,688.1 54.5,687.8 55.5,687.6 56.5,687.3 57.5,687.1 58.5,686.9 59.5,686.7 60.5,686.5 61.5,686.3 62.5,686.2 63.5,686 64.5,685.9 65.5,685.7 66.5,685.6 67.5,685.5 68.5,685.4 69.5,685.2 70.5,685.1 71.5,685 72.5,684.9 73.5,684.8 74.5,684.8 75.5,684.7 76.5,684.6 77.5,684.5 78.5,684.4 79.5,684.4 80.5,684.3 81.5,684.2 82.5,684.2 83.5,684.1 84.5,684.1 85.5,684 86.5,683.9 87.5,683.9 88.5,683.8 89.5,683.8 90.5,683.7 91.5,683.6 92.5,683.6 93.5,683.5 94.5,683.5 95.5,683.4 96.5,683.3 97.5,683.3 98.5,683.2 99.5,683.2 100.5,683.1 101.5,683.1 102.5,683 103.5,683 104.5,683 105.5,683 106.5,682.9 107.5,682.9 108.5,682.9 109.5,682.9 110.5,682.9 111.5,682.9 112.5,682.8 113.5,682.8 114.5,682.8 115.5,682.8 116.5,682.8 117.5,682.7 118.5,682.7 119.5,682.7 120.5,682.6 121.5,682.5 122.5,682.5 123.5,682.4 124.5,682.3 125.5,682.2 126.5,682.1 127.5,681.9 128.5,681.8 129.5,681.7 130.5,681.5 131.5,681.3 132.5,681 133.5,680.7 134.5,680.4 135.5,680 136.5,679.6 137.5,679.2 138.5,678.7 139.5,678.3 140.5,677.9 141.5,677.5 142.5,677.2 143.5,676.8 144.5,676.4 145.5,676 146.5,675.6 147.5,675.2 148.5,674.8 149.5,674.4 150.5,674 151.5,673.6 152.5,673.2 153.5,672.7 154.5,672.3 155.5,671.9 156.5,671.4 157.5,671 158.5,670.5 159.5,670 160.5,669.5 161.5,669 162.5,668.5 163.5,667.9 164.5,667.3 165.5,666.6 166.5,665.9 167.5,665.2 168.5,664.4 169.5,663.7 170.5,662.9 171.5,662.1 172.5,661.4 173.5,660.6 174.5,659.9 175.5,659.2 176.5,658.6 177.5,658.1 178.5,657.6 179.5,657.1 180.5,656.7 181.5,656.3 182.5,655.9 183.5,655.5 184.5,655.2 185.5,654.8 186.5,654.5 187.5,654.1 188.5,653.8 189.5,653.4 190.5,653 191.5,652.6 192.5,652.2 193.5,651.7 194.5,651.2 195.5,650.7 196.5,650.2 197.5,649.7 198.5,649.2 199.5,648.8 200.5,648.3 201.5,647.8 202.5,647.4 203.5,647 204.5,646.6 205.5,646.2 206.5,645.9 207.5,645.6 208.5,645.4 209.5,645.1 210.5,644.9 211.5,644.7 212.5,644.5 213.5,644.4 214.5,644.2 215.5,644 216.5,643.8 217.5,643.6 218.5,643.3 219.5,643.1 220.5,642.8 221.5,642.4 222.5,642.1 223.5,641.7 224.5,641.4 225.5,641 226.5,640.6 227.5,640.2 228.5,639.8 229.5,639.5 230.5,639.1 231.5,638.8 232.5,638.4 233.5,638.1 234.5,637.8 235.5,637.5 236.5,637.2 237.5,636.9 238.5,636.6 239.5,636.3 240.5,636 241.5,635.7 242.5,635.4 243.5,635.1 244.5,634.7 245.5,634.4 246.5,634 247.5,633.6 248.5,633.2 249.5,632.9 250.5,632.4 251.5,632 252.5,631.6 253.5,631.2 254.5,630.7 255.5,630.2 256.5,629.8 257.5,629.2 258.5,628.7 259.5,628.2 260.5,627.6 261.5,627 262.5,626.4 263.5,625.8 264.5,625.2 265.5,624.6 266.5,623.9 267.5,623.2 268.5,622.5 269.5,621.8 270.5,621.1 271.5,620.4 272.5,619.6 273.5,618.8 274.5,618 275.5,617.2 276.5,616.4 277.5,615.6 278.5,614.7 279.5,613.8 280.5,612.9 281.5,611.9 282.5,610.9 283.5,609.9 284.5,609 285.5,608 286.5,607 287.5,606.1 288.5,605.2 289.5,604.3 290.5,603.5 291.5,602.7 292.5,601.8 293.5,601 294.5,600.2 295.5,599.5 296.5,598.7 297.5,597.9 298.5,597.2 299.5,596.5 300.5,595.8 301.5,595 302.5,594.3 303.5,593.7 304.5,593 305.5,592.3 306.5,591.7 307.5,591 308.5,590.4 309.5,589.8 310.5,589.2 311.5,588.6 312.5,588 313.5,587.4 314.5,586.8 315.5,586.2 316.5,585.6 317.5,585 318.5,584.4 319.5,583.8 320.5,583.2 321.5,582.6 322.5,582 323.5,581.4 324.5,580.8 325.5,580.2 326.5,579.6 327.5,579 328.5,578.4 329.5,577.8 330.5,577.2 331.5,576.6 332.5,576 333.5,575.4 334.5,574.8 335.5,574.1 336.5,573.5 337.5,572.9 338.5,572.2 339.5,571.6 340.5,571.1 341.5,570.5 342.5,570.1 343.5,569.6 344.5,569.2 345.5,568.8 346.5,568.5 347.5,568.1 348.5,567.7 349.5,567.3 350.5,566.9 351.5,566.5 352.5,566 353.5,565.5 354.5,565 355.5,564.4 356.5,563.9 357.5,563.4 358.5,562.9 359.5,562.4 360.5,562 361.5,561.6 362.5,561.2 363.5,560.8 364.5,560.5 365.5,560.1 366.5,559.7 367.5,559.3 368.5,558.9 369.5,558.4 370.5,557.9 371.5,557.4 372.5,556.9 373.5,556.4 374.5,555.9 375.5,555.4 376.5,554.9 377.5,554.4 378.5,553.9 379.5,553.4 380.5,552.9 381.5,552.4 382.5,552 383.5,551.5 384.5,550.9 385.5,550.4 386.5,549.8 387.5,549.2 388.5,548.5 389.5,547.7 390.5,547 391.5,546.2 392.5,545.5 393.5,544.7 394.5,544 395.5,543.4 396.5,542.7 397.5,542.1 398.5,541.4 399.5,540.8 400.5,540 401.5,539.3 402.5,538.6 403.5,537.8 404.5,537 405.5,536.2 406.5,535.4 407.5,534.6 408.5,533.8 409.5,533 410.5,532.1 411.5,531.3 412.5,530.4 413.5,529.6 414.5,528.7 415.5,527.9 416.5,527 417.5,526.2 418.5,525.3 419.5,524.4 420.5,523.6 421.5,522.7 422.5,521.8 423.5,521 424.5,520.1 425.5,519.2 426.5,518.3 427.5,517.4 428.5,516.5 429.5,515.6 430.5,514.7 431.5,513.8 432.5,512.9 433.5,512 434.5,511.1 435.5,510.2 436.5,509.2 437.5,508.3 438.5,507.4 439.5,506.5 440.5,505.5 441.5,504.6 442.5,503.6 443.5,502.7 444.5,501.7 445.5,500.7 446.5,499.7 447.5,498.7 448.5,497.8 449.5,496.8 450.5,495.8 451.5,494.9 452.5,494 453.5,493.1 454.5,492.2 455.5,491.3 456.5,490.5 457.5,489.7 458.5,488.9 459.5,488.1 460.5,487.2 461.5,486.4 462.5,485.6 463.5,484.7 464.5,483.8 465.5,482.9 466.5,481.9 467.5,481 468.5,480 469.5,479 470.5,478 471.5,476.9 472.5,475.9 473.5,474.9 474.5,473.9 475.5,472.9 476.5,471.9 477.5,470.9 478.5,469.8 479.5,468.8 480.5,467.8 481.5,466.8 482.5,465.8 483.5,464.8 484.5,463.8 485.5,462.9 486.5,462 487.5,461.1 488.5,460.2 489.5,459.4 490.5,458.5 491.5,457.7 492.5,456.9 493.5,456.1 494.5,455.3 495.5,454.6 496.5,453.8 497.5,453.2 498.5,452.5 499.5,451.9 500.5,451.3 501.5,450.7 502.5,450.1 503.5,449.5 504.5,449 505.5,448.4 506.5,447.9 507.5,447.4 508.5,446.9 509.5,446.5 510.5,446 511.5,445.5 512.5,445 513.5,444.5 514.5,444 515.5,443.5 516.5,443 517.5,442.5 518.5,442 519.5,441.5 520.5,441 521.5,440.6 522.5,440.1 523.5,439.6 524.5,439.1 525.5,438.7 526.5,438.2 527.5,437.8 528.5,437.4 529.5,437 530.5,436.6 531.5,436.1 532.5,435.7 533.5,435.2 534.5,434.6 535.5,434 536.5,433.3 537.5,432.4 538.5,431.5 539.5,430.4 540.5,429.4 541.5,428.2 542.5,427.1 543.5,426 544.5,424.9 545.5,423.9 546.5,422.9 547.5,422 548.5,421 549.5,420 550.5,419.1 551.5,418.1 552.5,417.1 553.5,416.1 554.5,415.1 555.5,414 556.5,412.9 557.5,411.7 558.5,410.5 559.5,409.2 560.5,407.9 561.5,406.6 562.5,405.3 563.5,404 564.5,402.6 565.5,401.3 566.5,400 567.5,398.8 568.5,397.6 569.5,396.4 570.5,395.3 571.5,394.2 572.5,393.2 573.5,392.1 574.5,391.1 575.5,390.1 576.5,389.1 577.5,388.1 578.5,387.2 579.5,386.2 580.5,385.3 581.5,384.4 582.5,383.4 583.5,382.6 584.5,381.7 585.5,380.9 586.5,380.1 587.5,379.2 588.5,378.4 589.5,377.6 590.5,376.8 591.5,375.9 592.5,375.1 593.5,374.2 594.5,373.2 595.5,372.2 596.5,371.2 597.5,370.1 598.5,369 599.5,367.9 600.5,366.8 601.5,365.6 602.5,364.5 603.5,363.3 604.5,362.1 605.5,360.9 606.5,359.8 607.5,358.6 608.5,357.5 609.5,356.3 610.5,355.2 611.5,354.1 612.5,352.9 613.5,351.8 614.5,350.6 615.5,349.5 616.5,348.3 617.5,347.1 618.5,346 619.5,344.8 620.5,343.7 621.5,342.5 622.5,341.4 623.5,340.3 624.5,339.2 625.5,338.2 626.5,337.1 627.5,336.1 628.5,335.2 629.5,334.2 630.5,333.2 631.5,332.3 632.5,331.3 633.5,330.3 634.5,329.2 635.5,328.1 636.5,326.9 637.5,325.7 638.5,324.5 639.5,323.2 640.5,321.9 641.5,320.6 642.5,319.3 643.5,318 644.5,316.6 645.5,315.3 646.5,314 647.5,312.7 648.5,311.3 649.5,310 650.5,308.7 651.5,307.3 652.5,305.9 653.5,304.6 654.5,303.2 655.5,301.9 656.5,300.6 657.5,299.4 658.5,298.2 659.5,297 660.5,295.9 661.5,294.8 662.5,293.8 663.5,292.7 664.5,291.7 665.5,290.6 666.5,289.6 667.5,288.5 668.5,287.3 669.5,286.2 670.5,285 671.5,283.8 672.5,282.5 673.5,281.3 674.5,280 675.5,278.8 676.5,277.5 677.5,276.2 678.5,274.9 679.5,273.5 680.5,272.2 681.5,270.9 682.5,269.5 683.5,268.2 684.5,266.8 685.5,265.4 686.5,263.9 687.5,262.4 688.5,260.9 689.5,259.2 690.5,257.5 691.5,255.7 692.5,253.9 693.5,252 694.5,250.2 695.5,248.3 696.5,246.4 697.5,244.6 698.5,242.6 699.5,240.7 700.5,238.9 701.5,237.2 702.5,235.5 703.5,234 704.5,232.6 705.5,231.3 706.5,230.1 707.5,228.9 708.5,227.9 709.5,226.9 710.5,225.9 711.5,225.1 712.5,224.3 713.5,223.6 714.5,222.9 715.5,222.3 716.5,221.8 717.5,221.4 718.5,221.3 719.5,221.1 720.5,220.9 721.5,220.8 722.5,220.7 723.5,220.6 724.5,220.6 725.5,220.5 726.5,220.5 727.5,220.5 728.5,220.5 729.5,220.6 730.5,220.6 731.5,220.7 732.5,220.8 733.5,220.9 734.5,221 735.5,221.1 736.5,221.3 737.5,221.6 738.5,222.1 739.5,222.5 740.5,223 741.5,223.6 742.5,224.1 743.5,224.6 744.5,225.1 745.5,225.5 746.5,225.8 747.5,226.1 748.5,226.4 749.5,226.7 750.5,227 751.5,227.2 752.5,227.5 753.5,227.7 754.5,227.9 755.5,228.2 756.5,228.4 757.5,228.6 758.5,228.9 759.5,229.1 760.5,229.4 761.5,229.7 762.5,230 763.5,230.2 764.5,230.5 765.5,230.8 766.5,231.1 767.5,231.4 768.5,231.7 769.5,232 770.5,232.3 771.5,232.7 772.5,233 773.5,233.3 774.5,233.6 775.5,233.9 776.5,234.3 777.5,234.6 778.5,234.9 779.5,235.2 780.5,235.5 781.5,235.8 782.5,236.1 783.5,236.5 784.5,236.9 785.5,237.3 786.5,237.7 787.5,238.2 788.5,238.8 789.5,239.4 790.5,240.1 791.5,240.7 792.5,241.4 793.5,242.1 794.5,242.9 795.5,243.6 796.5,244.4 797.5,245.2 798.5,246.1 799.5,246.9 800.5,247.8 801.5,248.7 802.5,249.6 803.5,250.4 804.5,251.3 805.5,252.3 806.5,253.2 807.5,254.1 808.5,255.1 809.5,256 810.5,257 811.5,258.1 812.5,259.1 813.5,260.2 814.5,261.3 815.5,262.5 816.5,263.7 817.5,264.9 818.5,266.2 819.5,267.5 820.5,268.8 821.5,270.2 822.5,271.6 823.5,273 824.5,274.6 825.5,276.3 826.5,278 827.5,279.7 828.5,281.4 829.5,283.1 830.5,284.6 831.5,286 832.5,287.2 833.5,288.3 834.5,289.3 835.5,290.2 836.5,291.1 837.5,292 838.5,292.9 839.5,293.9 840.5,295.1 841.5,296.4 842.5,297.9 843.5,299.5 844.5,301.2 845.5,302.9 846.5,304.6 847.5,306.3 848.5,308 849.5,309.5 850.5,310.9 851.5,312.3 852.5,313.6 853.5,314.9 854.5,316.2 855.5,317.6 856.5,319 857.5,320.5 858.5,322.2 859.5,324 860.5,326 861.5,328 862.5,330.1 863.5,332.2 864.5,334.3 865.5,336.3 866.5,338.2 867.5,340.2 868.5,342.1 869.5,344 870.5,345.8 871.5,347.6 872.5,349.3 873.5,350.8 874.5,352.2 875.5,353.6 876.5,354.8 877.5,356 878.5,357.2 879.5,358.3 880.5,359.4 881.5,360.5 882.5,361.7 883.5,362.8 884.5,364 885.5,365.2 886.5,366.4 887.5,367.6 888.5,368.7 889.5,369.8 890.5,370.7 891.5,371.6 892.5,372.3 893.5,373 894.5,373.6 895.5,374.2 896.5,374.8 897.5,375.4 898.5,376 899.5,376.8 900.5,377.6 901.5,378.5 902.5,379.4 903.5,380.2 904.5,380.8 905.5,381.2 906.5,381.4 907.5,381.6 908.5,381.7 909.5,381.9 910.5,382 911.5,382.1 912.5,382.2 913.5,382.3 914.5,382.5 915.5,382.8 916.5,383.1 917.5,383.4 918.5,383.8 919.5,384.2 920.5,384.6 921.5,385 922.5,385.4 923.5,385.8 924.5,386.1 925.5,386.5 926.5,386.9 927.5,387.2 928.5,387.6 929.5,388 930.5,388.5 931.5,388.9 932.5,389.4 933.5,389.9 934.5,390.5 935.5,391.1 936.5,391.8 937.5,392.6 938.5,393.4 939.5,394.2 940.5,395.1 941.5,395.8 942.5,396.6 943.5,397.3 944.5,398.1 945.5,399 946.5,399.8 947.5,400.6 948.5,401.3 949.5,401.8 950.5,402.2 951.5,402.5 952.5,402.6 953.5,402.8 954.5,402.9 955.5,403 956.5,403.1 957.5,403.2 958.5,403.4 959.5,403.6 960.5,403.9 961.5,404.3 962.5,404.7 963.5,405.1 964.5,405.6 965.5,406.1 966.5,406.6 967.5,407.1 968.5,407.7 969.5,408.4 970.5,409.2 971.5,410 972.5,410.8 973.5,411.5 974.5,412.2 975.5,412.9 976.5,413.5 977.5,414 978.5,414.5 979.5,415 980.5,415.5 981.5,416 982.5,416.4 983.5,416.9 984.5,417.4 985.5,417.9 986.5,418.5 987.5,419 988.5,419.6 989.5,420.2 990.5,420.7 991.5,421.1 992.5,421.5 993.5,421.9 994.5,422.1 995.5,422.4 996.5,422.6 997.5,422.8 998.5,423 999.5,423.2 1000.5,423.3 1001.5,423.5 1002.5,423.5 1003.5,423.6 1004.5,423.7 1005.5,423.8 1006.5,423.9 1007.5,423.9 1008.5,424 1009.5,424 1010.5,424 1011.5,424 1012.5,423.8 1013.5,423.5 1014.5,423.2 1015.5,422.9 1016.5,422.5 1017.5,422.2 1018.5,422 1019.5,421.8 1020.5,421.7 1021.5,421.7 1022.5,421.6 1023.5,421.6 1024.5,421.6 1025.5,421.5 1026.5,421.5 1027.5,421.5 1028.5,421.4 1029.5,421.3 1030.5,421.1 1031.5,420.9 1032.5,420.7 1033.5,420.5 1034.5,420.3 1035.5,420.1 1036.5,419.9 1037.5,419.8 1038.5,419.7 1039.5,419.7 1040.5,419.7 1041.5,419.7 1042.5,419.8 1043.5,419.8 1044.5,419.8 1045.5,419.9 1046.5,419.9 1047.5,419.9 1048.5,420 1049.5,420 1050.5,420 1051.5,420 1052.5,420 1053.5,420 1054.5,419.9 1055.5,419.9 1056.5,419.8 1057.5,419.8 1058.5,419.7 1059.5,419.6 1060.5,419.5 1061.5,419.5 1062.5,419.4 1063.5,419.3 1064.5,419.2 1065.5,419.1 1066.5,418.9 1067.5,418.7 1068.5,418.5 1069.5,418.3 1070.5,418 1071.5,417.8 1072.5,417.5 1073.5,417.3 1074.5,417 1075.5,416.8 1076.5,416.7 1077.5,416.5 1078.5,416.3 1079.5,416.2 1080.5,416.1 1081.5,415.9 1082.5,415.8 1083.5,415.6 1084.5,415.4 1085.5,415.3 1086.5,415 1087.5,414.8 1088.5,414.5 1089.5,414.2 1090.5,413.8 1091.5,413.5 1092.5,413.1 1093.5,412.7 1094.5,412.3 1095.5,411.8 1096.5,411.3 1097.5,410.9 1098.5,410.3 1099.5,409.7 1100.5,409 1101.5,408.3 1102.5,407.6 1103.5,406.9 1104.5,406.2 1105.5,405.4 1106.5,404.7 1107.5,404.1 1108.5,403.4 1109.5,402.7 1110.5,402 1111.5,401.3 1112.5,400.6 1113.5,399.9 1114.5,399.3 1115.5,398.6 1116.5,398 1117.5,397.4 1118.5,396.8 1119.5,396.3 1120.5,395.7 1121.5,395.2 1122.5,394.7 1123.5,394.3 1124.5,393.8 1125.5,393.3 1126.5,392.8 1127.5,392.3 1128.5,391.8 1129.5,391.4 1130.5,390.9 1131.5,390.4 1132.5,389.9 1133.5,389.4 1134.5,388.9 1135.5,388.4 1136.5,387.9 1137.5,387.4 1138.5,386.8 1139.5,386.2 1140.5,385.6 1141.5,385 1142.5,384.4 1143.5,383.7 1144.5,383 1145.5,382.3 1146.5,381.5 1147.5,380.7 1148.5,379.8 1149.5,378.8 1150.5,377.8 1151.5,376.7 1152.5,375.5 1153.5,374.3 1154.5,373.1 1155.5,372 1156.5,370.8 1157.5,369.7 1158.5,368.5 1159.5,367.3 1160.5,366.2 1161.5,365 1162.5,363.8 1163.5,362.5 1164.5,361.3 1165.5,360 1166.5,358.7 1167.5,357.4 1168.5,356 1169.5,354.6 1170.5,353.2 1171.5,351.8 1172.5,350.4 1173.5,349 1174.5,347.8 1175.5,346.5 1176.5,345.4 1177.5,344.3 1178.5,343.3 1179.5,342.3 1180.5,341.4 1181.5,340.4 1182.5,339.4 1183.5,338.5 1184.5,337.5 1185.5,336.5 1186.5,335.4 1187.5,334.4 1188.5,333.3 1189.5,332.3 1190.5,331.3 1191.5,330.5 1192.5,329.7 1193.5,328.9 1194.5,328.2 1195.5,327.6 1196.5,327.1 1197.5,326.7 1198.5,326.3 1199.5,325.9 1200.5,325.6 1201.5,325.3 1202.5,325.2" stroke="#4444ff" stroke-width="1.1" stroke-linejoin="round"/>
<polyline points="11.5,702 12.5,702.1 13.5,702.2 14.5,702.3 15.5,702.3 16.5,702.3 17.5,702.3 18.5,702.2 19.5,702 20.5,701.5 21.5,700.8 22.5,700 23.5,699.2 24.5,698.2 25.5,697.2 26.5,696.2 27.5,695.3 28.5,694.4 29.5,693.5 30.5,692.8 31.5,692.1 32.5,691.3 33.5,690.5 34.5,689.8 35.5,689 36.5,688.3 37.5,687.5 38.5,686.8 39.5,686.1 40.5,685.4 41.5,684.7 42.5,684.1 43.5,683.5 44.5,683 45.5,682.5 46.5,682 47.5,681.5 48.5,681 49.5,680.6 50.5,680.1 51.5,679.7 52.5,679.2 53.5,678.9 54.5,678.5 55.5,678.1 56.5,677.8 57.5,677.5 58.5,677.2 59.5,677 60.5,676.7 61.5,676.5 62.5,676.2 63.5,676 64.5,675.7 65.5,675.5 66.5,675.3 67.5,675.1 68.5,674.9 69.5,674.7 70.5,674.6 71.5,674.4 72.5,674.3 73.5,674.2 74.5,674.1 75.5,674 76.5,674 77.5,674 78.5,674.1 79.5,674.2 80.5,674.3 81.5,674.5 82.5,674.7 83.5,675 84.5,675.2 85.5,675.5 86.5,675.8 87.5,676 88.5,676.3 89.5,676.5 90.5,676.8 91.5,677 92.5,677.3 93.5,677.6 94.5,677.9 95.5,678.2 96.5,678.6 97.5,678.9 98.5,679.2 99.5,679.5 100.5,679.8 101.5,680.1 102.5,680.4 103.5,680.7 104.5,681 105.5,681.3 106.5,681.6 107.5,681.9 108.5,682.2 109.5,682.5 110.5,682.8 111.5,683.1 112.5,683.3 113.5,683.5 114.5,683.7 115.5,683.8 116.5,683.9 117.5,684 118.5,684.1 119.5,684.1 120.5,684.2 121.5,684.3 122.5,684.3 123.5,684.4 124.5,684.4 125.5,684.5 126.5,684.5 127.5,684.5 128.5,684.4 129.5,684.2 130.5,683.9 131.5,683.4 132.5,682.9 133.5,682.4 134.5,681.8 135.5,681.3 136.5,680.7 137.5,680.2 138.5,679.6 139.5,679 140.5,678.4 141.5,677.7 142.5,677 143.5,676.3 144.5,675.5 145.5,674.8 146.5,674 147.5,673.2 148.5,672.4 149.5,671.7 150.5,670.9 151.5,670.1 152.5,669.2 153.5,668.4 154.5,667.5 155.5,666.7 156.5,665.8 157.5,664.8 158.5,663.9 159.5,662.9 160.5,661.9 161.5,660.9 162.5,659.8 163.5,658.7 164.5,657.5 165.5,656.2 166.5,654.9 167.5,653.6 168.5,652.3 169.5,651 170.5,649.7 171.5,648.4 172.5,647.1 173.5,645.9 174.5,644.7 175.5,643.6 176.5,642.5 177.5,641.4 178.5,640.4 179.5,639.4 180.5,638.4 181.5,637.5 182.5,636.6 183.5,635.7 184.5,634.8 185.5,633.9 186.5,633.1 187.5,632.2 188.5,631.4 189.5,630.6 190.5,629.9 191.5,629.1 192.5,628.3 193.5,627.6 194.5,626.9 195.5,626.1 196.5,625.4 197.5,624.7 198.5,624 199.5,623.3 200.5,622.7 201.5,622.1 202.5,621.5 203.5,620.8 204.5,620.2 205.5,619.8 206.5,619.5 207.5,619.5 208.5,619.5 209.5,619.5 210.5,619.5 211.5,619.5 212.5,619.5 213.5,619.5 214.5,619.5 215.5,619.5 216.5,619.5 217.5,619.5 218.5,619.5 219.5,619.5 220.5,619.4 221.5,619.4 222.5,619.2 223.5,619.1 224.5,618.9 225.5,618.7 226.5,618.6 227.5,618.4 228.5,618.2 229.5,618 230.5,617.8 231.5,617.7 232.5,617.6 233.5,617.4 234.5,617.3 235.5,617.2 236.5,617 237.5,616.9 238.5,616.8 239.5,616.7 240.5,616.5 241.5,616.4 242.5,616.3 243.5,616.2 244.5,616.1 245.5,616 246.5,615.9 247.5,615.8 248.5,615.8 249.5,615.7 250.5,615.6 251.5,615.6 252.5,615.5 253.5,615.4 254.5,615.3 255.5,615.2 256.5,615 257.5,614.7 258.5,614.2 259.5,613.6 260.5,613 261.5,612.4 262.5,611.8 263.5,611.4 264.5,611 265.5,610.6 266.5,610.2 267.5,609.9 268.5,609.5 269.5,609.1 270.5,608.7 271.5,608.3 272.5,607.8 273.5,607.2 274.5,606.5 275.5,605.6 276.5,604.5 277.5,603.4 278.5,602.3 279.5,601.2 280.5,600.1 281.5,599.1 282.5,598.1 283.5,597.1 284.5,596.1 285.5,595.2 286.5,594.2 287.5,593.2 288.5,592.2 289.5,591.2 290.5,590.2 291.5,589.2 292.5,588.2 293.5,587.2 294.5,586.2 295.5,585.2 296.5,584.2 297.5,583.2 298.5,582.2 299.5,581.1 300.5,580 301.5,578.8 302.5,577.6 303.5,576.5 304.5,575.5 305.5,574.7 306.5,574 307.5,573.5 308.5,573.2 309.5,572.9 310.5,572.6 311.5,572.3 312.5,571.8 313.5,571.1 314.5,570.2 315.5,569.2 316.5,568 317.5,566.9 318.5,565.7 319.5,564.7 320.5,563.7 321.5,562.7 322.5,561.7 323.5,560.7 324.5,559.7 325.5,558.7 326.5,557.7 327.5,556.7 328.5,555.7 329.5,554.7 330.5,553.7 331.5,552.7 332.5,551.7 333.5,550.8 334.5,549.9 335.5,549.1 336.5,548.2 337.5,547.3 338.5,546.5 339.5,545.7 340.5,545 341.5,544.2 342.5,543.6 343.5,542.9 344.5,542.3 345.5,541.7 346.5,541.1 347.5,540.5 348.5,540 349.5,539.4 350.5,538.9 351.5,538.3 352.5,537.8 353.5,537.3 354.5,536.8 355.5,536.3 356.5,535.8 357.5,535.3 358.5,534.9 359.5,534.4 360.5,533.8 361.5,533.2 362.5,532.5 363.5,531.9 364.5,531.4 365.5,530.9 366.5,530.7 367.5,530.6 368.5,530.5 369.5,530.5 370.5,530.4 371.5,530.4 372.5,530.4 373.5,530.3 374.5,530.3 375.5,530.2 376.5,530.1 377.5,529.9 378.5,529.8 379.5,529.6 380.5,529.4 381.5,529.2 382.5,528.9 383.5,528.7 384.5,528.5 385.5,528.2 386.5,528 387.5,527.7 388.5,527.5 389.5,527.2 390.5,526.9 391.5,526.6 392.5,526.3 393.5,525.9 394.5,525.6 395.5,525.2 396.5,524.7 397.5,524.2 398.5,523.7 399.5,523.1 400.5,522.5 401.5,521.7 402.5,520.8 403.5,519.9 404.5,518.9 405.5,517.9 406.5,516.8 407.5,515.7 408.5,514.6 409.5,513.5 410.5,512.5 411.5,511.4 412.5,510.3 413.5,509.1 414.5,508 415.5,506.8 416.5,505.6 417.5,504.4 418.5,503.2 419.5,502 420.5,500.8 421.5,499.5 422.5,498.4 423.5,497.2 424.5,496 425.5,494.9 426.5,493.8 427.5,492.7 428.5,491.6 429.5,490.6 430.5,489.5 431.5,488.5 432.5,487.5 433.5,486.5 434.5,485.5 435.5,484.5 436.5,483.5 437.5,482.6 438.5,481.6 439.5,480.7 440.5,479.7 441.5,478.8 442.5,477.9 443.5,477 444.5,476.2 445.5,475.4 446.5,474.6 447.5,473.8 448.5,472.9 449.5,472.1 450.5,471.3 451.5,470.4 452.5,469.5 453.5,468.5 454.5,467.5 455.5,466.4 456.5,465.3 457.5,464.2 458.5,463 459.5,461.8 460.5,460.5 461.5,459.2 462.5,457.8 463.5,456.4 464.5,454.9 465.5,453.4 466.5,451.7 467.5,450.1 468.5,448.4 469.5,446.7 470.5,445.1 471.5,443.4 472.5,441.8 473.5,440 474.5,438.2 475.5,436.5 476.5,434.7 477.5,433.1 478.5,431.6 479.5,430.3 480.5,429.2 481.5,428.2 482.5,427.4 483.5,426.6 484.5,425.8 485.5,425.1 486.5,424.4 487.5,423.7 488.5,422.9 489.5,422.1 490.5,421.2 491.5,420.3 492.5,419.4 493.5,418.5 494.5,417.6 495.5,416.8 496.5,416 497.5,415.1 498.5,414.1 499.5,413.2 500.5,412.5 501.5,412.1 502.5,412 503.5,412.3 504.5,412.7 505.5,413.3 506.5,413.9 507.5,414.4 508.5,414.8 509.5,415 510.5,415.3 511.5,415.5 512.5,415.7 513.5,415.9 514.5,416 515.5,416.2 516.5,416.3 517.5,416.5 518.5,416.6 519.5,416.7 520.5,416.9 521.5,417 522.5,417.1 523.5,417.2 524.5,417.3 525.5,417.3 526.5,417.3 527.5,417.3 528.5,417.2 529.5,417.2 530.5,417.1 531.5,417 532.5,416.9 533.5,416.8 534.5,416.6 535.5,416.3 536.5,415.8 537.5,415.2 538.5,414.5 539.5,413.7 540.5,412.9 541.5,412.1 542.5,411.2 543.5,410.2 544.5,409.1 545.5,407.9 546.5,406.6 547.5,405.3 548.5,404 549.5,402.7 550.5,401.4 551.5,400.1 552.5,398.7 553.5,397.4 554.5,396 555.5,394.6 556.5,393.2 557.5,391.7 558.5,390.3 559.5,388.7 560.5,387.1 561.5,385.4 562.5,383.6 563.5,381.8 564.5,379.9 565.5,378.1 566.5,376.4 567.5,374.7 568.5,373.2 569.5,371.9 570.5,370.6 571.5,369.6 572.5,368.6 573.5,367.6 574.5,366.7 575.5,365.8 576.5,364.9 577.5,363.9 578.5,362.8 579.5,361.6 580.5,360.4 581.5,359.1 582.5,357.8 583.5,356.4 584.5,355.1 585.5,353.7 586.5,352.4 587.5,351.1 588.5,349.8 589.5,348.5 590.5,347.3 591.5,346 592.5,344.7 593.5,343.3 594.5,342 595.5,340.6 596.5,339.2 597.5,337.8 598.5,336.3 599.5,334.7 600.5,333.1 601.5,331.5 602.5,329.9 603.5,328.3 604.5,326.6 605.5,325 606.5,323.4 607.5,321.8 608.5,320.3 609.5,318.8 610.5,317.3 611.5,315.8 612.5,314.4 613.5,312.9 614.5,311.5 615.5,310.1 616.5,308.7 617.5,307.3 618.5,305.9 619.5,304.5 620.5,303.1 621.5,301.8 622.5,300.4 623.5,299.1 624.5,297.8 625.5,296.5 626.5,295.3 627.5,294 628.5,292.7 629.5,291.3 630.5,289.9 631.5,288.4 632.5,286.9 633.5,285.3 634.5,283.6 635.5,281.9 636.5,280.1 637.5,278.3 638.5,276.4 639.5,274.4 640.5,272.4 641.5,270.3 642.5,268.1 643.5,265.7 644.5,263.3 645.5,260.8 646.5,258.3 647.5,255.8 648.5,253.3 649.5,250.9 650.5,248.4 651.5,245.9 652.5,243.4 653.5,241.2 654.5,239.1 655.5,237.1 656.5,235.1 657.5,233.3 658.5,231.8 659.5,230.7 660.5,229.9 661.5,229.4 662.5,228.9 663.5,228.5 664.5,228.1 665.5,227.7 666.5,227.4 667.5,227.1 668.5,226.8 669.5,226.5 670.5,226.3 671.5,226 672.5,225.7 673.5,225.4 674.5,225.1 675.5,224.8 676.5,224.5 677.5,224.2 678.5,223.8 679.5,223.5 680.5,223.2 681.5,222.8 682.5,222.3 683.5,221.9 684.5,221.3 685.5,220.7 686.5,219.8 687.5,218.6 688.5,217.3 689.5,215.8 690.5,214.3 691.5,212.9 692.5,211.4 693.5,209.9 694.5,208.3 695.5,206.7 696.5,205.2 697.5,203.7 698.5,202.3 699.5,200.9 700.5,199.5 701.5,198.2 702.5,196.9 703.5,195.7 704.5,194.6 705.5,193.6 706.5,192.6 707.5,191.7 708.5,190.9 709.5,190.5 710.5,190.5 711.5,190.8 712.5,191.1 713.5,191.5 714.5,192.1 715.5,193.2 716.5,194.8 717.5,196.7 718.5,198.8 719.5,200.7 720.5,202.6 721.5,204.6 722.5,206.6 723.5,208.7 724.5,210.8 725.5,212.8 726.5,214.7 727.5,216.6 728.5,218.4 729.5,220.2 730.5,222 731.5,223.7 732.5,225.4 733.5,227 734.5,228.5 735.5,229.9 736.5,231.2 737.5,232.6 738.5,234.1 739.5,235.8 740.5,237.9 741.5,240.2 742.5,242.7 743.5,245.2 744.5,247.6 745.5,249.7 746.5,251.6 747.5,253.3 748.5,254.9 749.5,256.4 750.5,257.9 751.5,259.3 752.5,260.7 753.5,262 754.5,263.4 755.5,264.7 756.5,266 757.5,267.2 758.5,268.4 759.5,269.5 760.5,270.6 761.5,271.8 762.5,272.9 763.5,274.1 764.5,275.2 765.5,276.2 766.5,277.1 767.5,277.8 768.5,278.4 769.5,278.8 770.5,279.2 771.5,279.5 772.5,279.7 773.5,280 774.5,280.2 775.5,280.5 776.5,280.8 777.5,281.2 778.5,281.6 779.5,282.1 780.5,282.7 781.5,283.3 782.5,283.9 783.5,284.5 784.5,285.2 785.5,286 786.5,286.7 787.5,287.6 788.5,288.7 789.5,289.9 790.5,291.1 791.5,292.2 792.5,293.3 793.5,294.2 794.5,294.9 795.5,295.4 796.5,295.7 797.5,296 798.5,296.2 799.5,296.4 800.5,296.7 801.5,297 802.5,297.5 803.5,298 804.5,298.7 805.5,299.4 806.5,300.2 807.5,301 808.5,301.9 809.5,302.7 810.5,303.6 811.5,304.5 812.5,305.4 813.5,306.4 814.5,307.5 815.5,308.5 816.5,309.6 817.5,310.8 818.5,312 819.5,313.2 820.5,314.6 821.5,315.9 822.5,317.4 823.5,318.8 824.5,320.3 825.5,321.7 826.5,323.2 827.5,324.7 828.5,326.2 829.5,327.7 830.5,329.3 831.5,330.8 832.5,332.3 833.5,333.8 834.5,335.2 835.5,336.5 836.5,337.7 837.5,339 838.5,340.4 839.5,341.8 840.5,343.4 841.5,345.3 842.5,347.5 843.5,349.8 844.5,352.1 845.5,354.3 846.5,356.3 847.5,358.2 848.5,360.2 849.5,362 850.5,363.8 851.5,365.5 852.5,367 853.5,368.4 854.5,369.8 855.5,371 856.5,372.2 857.5,373.4 858.5,374.5 859.5,375.6 860.5,376.7 861.5,377.8 862.5,378.9 863.5,380.1 864.5,381.4 865.5,382.6 866.5,383.7 867.5,384.7 868.5,385.6 869.5,386.3 870.5,386.7 871.5,386.9 872.5,387.1 873.5,387.3 874.5,387.4 875.5,387.6 876.5,387.8 877.5,388.1 878.5,388.6 879.5,389.2 880.5,390 881.5,391 882.5,391.9 883.5,392.9 884.5,393.8 885.5,394.7 886.5,395.8 887.5,396.9 888.5,398 889.5,399.1 890.5,400.2 891.5,401.1 892.5,402 893.5,402.7 894.5,403.3 895.5,404 896.5,404.6 897.5,405.2 898.5,405.7 899.5,406.2 900.5,406.5 901.5,406.7 902.5,406.9 903.5,406.9 904.5,407 905.5,407.1 906.5,407.1 907.5,407.2 908.5,407.2 909.5,407.2 910.5,407 911.5,406.8 912.5,406.5 913.5,406.2 914.5,405.9 915.5,405.5 916.5,405.3 917.5,405 918.5,404.9 919.5,404.7 920.5,404.6 921.5,404.4 922.5,404.3 923.5,404.1 924.5,404 925.5,403.9 926.5,403.9 927.5,403.8 928.5,403.8 929.5,403.8 930.5,403.8 931.5,403.8 932.5,403.9 933.5,403.9 934.5,404 935.5,404 936.5,404.1 937.5,404.1 938.5,404.2 939.5,404.3 940.5,404.5 941.5,404.8 942.5,405.1 943.5,405.4 944.5,405.7 945.5,406 946.5,406.2 947.5,406.3 948.5,406.3 949.5,406.2 950.5,406 951.5,405.8 952.5,405.5 953.5,405.3 954.5,405 955.5,404.8 956.5,404.7 957.5,404.5 958.5,404.4 959.5,404.3 960.5,404.1 961.5,404 962.5,403.9 963.5,403.8 964.5,403.8 965.5,403.8 966.5,403.9 967.5,404.2 968.5,404.5 969.5,404.9 970.5,405.4 971.5,405.8 972.5,406.3 973.5,406.7 974.5,407 975.5,407.3 976.5,407.6 977.5,407.8 978.5,408.1 979.5,408.4 980.5,408.7 981.5,409 982.5,409.4 983.5,409.9 984.5,410.5 985.5,411.1 986.5,411.9 987.5,412.6 988.5,413.4 989.5,414.2 990.5,414.9 991.5,415.6 992.5,416.3 993.5,416.9 994.5,417.6 995.5,418.3 996.5,418.9 997.5,419.5 998.5,420.1 999.5,420.6 1000.5,421 1001.5,421.4 1002.5,421.7 1003.5,422.1 1004.5,422.4 1005.5,422.7 1006.5,423 1007.5,423.2 1008.5,423.4 1009.5,423.6 1010.5,423.7 1011.5,423.8 1012.5,423.9 1013.5,424 1014.5,424.1 1015.5,424.1 1016.5,424.2 1017.5,424.3 1018.5,424.3 1019.5,424.4 1020.5,424.5 1021.5,424.5 1022.5,424.6 1023.5,424.7 1024.5,424.7 1025.5,424.8 1026.5,424.8 1027.5,424.9 1028.5,424.9 1029.5,424.9 1030.5,424.9 1031.5,424.8 1032.5,424.6 1033.5,424.4 1034.5,424.1 1035.5,423.8 1036.5,423.5 1037.5,423.2 1038.5,422.9 1039.5,422.7 1040.5,422.6 1041.5,422.5 1042.5,422.5 1043.5,422.4 1044.5,422.4 1045.5,422.4 1046.5,422.3 1047.5,422.3 1048.5,422.3 1049.5,422.3 1050.5,422.2 1051.5,422.2 1052.5,422.1 1053.5,422 1054.5,422 1055.5,421.8 1056.5,421.7 1057.5,421.5 1058.5,421.4 1059.5,421.2 1060.5,421 1061.5,420.8 1062.5,420.6 1063.5,420.3 1064.5,420.1 1065.5,419.9 1066.5,419.7 1067.5,419.5 1068.5,419.3 1069.5,419 1070.5,418.8 1071.5,418.5 1072.5,418.2 1073.5,417.9 1074.5,417.5 1075.5,417.1 1076.5,416.5 1077.5,415.9 1078.5,415.1 1079.5,414.2 1080.5,413.3 1081.5,412.4 1082.5,411.4 1083.5,410.3 1084.5,409.1 1085.5,407.8 1086.5,406.4 1087.5,404.9 1088.5,403.4 1089.5,401.8 1090.5,400.3 1091.5,398.9 1092.5,397.5 1093.5,396.1 1094.5,394.7 1095.5,393.3 1096.5,391.9 1097.5,390.5 1098.5,389.1 1099.5,387.7 1100.5,386.3 1101.5,384.9 1102.5,383.5 1103.5,382.1 1104.5,380.6 1105.5,379.2 1106.5,377.8 1107.5,376.4 1108.5,375.1 1109.5,373.8 1110.5,372.5 1111.5,371.2 1112.5,370 1113.5,368.8 1114.5,367.6 1115.5,366.4 1116.5,365.2 1117.5,364.1 1118.5,363 1119.5,361.9 1120.5,360.8 1121.5,359.8 1122.5,358.7 1123.5,357.7 1124.5,356.8 1125.5,355.9 1126.5,355.1 1127.5,354.4 1128.5,353.7 1129.5,353.1 1130.5,352.5 1131.5,351.9 1132.5,351.4 1133.5,350.8 1134.5,350.2 1135.5,349.6 1136.5,349.1 1137.5,348.5 1138.5,348 1139.5,347.4 1140.5,346.9 1141.5,346.3 1142.5,345.7 1143.5,344.9 1144.5,344.1 1145.5,343.2 1146.5,342 1147.5,340.4 1148.5,338.7 1149.5,336.8 1150.5,334.9 1151.5,333 1152.5,331.2 1153.5,329.6 1154.5,327.9 1155.5,326.2 1156.5,324.6 1157.5,322.9 1158.5,321.3 1159.5,319.7 1160.5,318.2 1161.5,316.8 1162.5,315.5 1163.5,314.3 1164.5,313.2 1165.5,312.1 1166.5,310.8 1167.5,309.3 1168.5,307.6 1169.5,305.9 1170.5,304.5 1171.5,303.3 1172.5,302.3 1173.5,301.5 1174.5,300.7 1175.5,300 1176.5,299.4 1177.5,298.8 1178.5,298.2 1179.5,297.8 1180.5,297.3 1181.5,296.8 1182.5,296.3 1183.5,295.6 1184.5,294.7 1185.5,293.9 1186.5,293.1 1187.5,292.4 1188.5,292 1189.5,291.7 1190.5,291.5 1191.5,291.3 1192.5,291.1 1193.5,291 1194.5,291 1195.5,291.2 1196.5,291.8 1197.5,292.6 1198.5,293.4 1199.5,294.2 1200.5,295.1 1201.5,296.1 1202.5,297.1 1203.5,298.3" stroke="#55585e" stroke-width="2.3" stroke-linejoin="round" stroke-linecap="round" stroke-opacity="0.92"/>
<polyline points="11.5,697 12.5,697 13.5,696.9 14.5,696.8 15.5,696.7 16.5,696.6 17.5,696.4 18.5,696.2 19.5,695.7 20.5,695 21.5,694.1 22.5,693 23.5,691.8 24.5,690.6 25.5,689.3 26.5,688 27.5,686.8 28.5,685.7 29.5,684.7 30.5,683.8 31.5,682.9 32.5,682 33.5,681.1 34.5,680.3 35.5,679.4 36.5,678.6 37.5,677.7 38.5,676.9 39.5,676.1 40.5,675.4 41.5,674.6 42.5,673.9 43.5,673.2 44.5,672.6 45.5,671.9 46.5,671.3 47.5,670.5 48.5,669.8 49.5,669.2 50.5,668.5 51.5,667.9 52.5,667.4 53.5,667 54.5,666.6 55.5,666.4 56.5,666.4 57.5,666.4 58.5,666.5 59.5,666.6 60.5,666.8 61.5,667 62.5,667.1 63.5,667.3 64.5,667.4 65.5,667.5 66.5,667.5 67.5,667.5 68.5,667.5 69.5,667.5 70.5,667.5 71.5,667.5 72.5,667.5 73.5,667.5 74.5,667.5 75.5,667.5 76.5,667.5 77.5,667.6 78.5,667.9 79.5,668.3 80.5,668.9 81.5,669.4 82.5,670 83.5,670.5 84.5,671 85.5,671.4 86.5,671.8 87.5,672.2 88.5,672.6 89.5,673 90.5,673.4 91.5,673.8 92.5,674.2 93.5,674.6 94.5,674.9 95.5,675.3 96.5,675.7 97.5,676.2 98.5,676.7 99.5,677.4 100.5,678.1 101.5,678.9 102.5,679.8 103.5,680.6 104.5,681.4 105.5,682.2 106.5,682.9 107.5,683.5 108.5,684.1 109.5,684.7 110.5,685.2 111.5,685.6 112.5,686 113.5,686.2 114.5,686.4 115.5,686.6 116.5,686.7 117.5,686.9 118.5,687.1 119.5,687.2 120.5,687.3 121.5,687.4 122.5,687.4 123.5,687.5 124.5,687.5 125.5,687.4 126.5,686.9 127.5,686.3 128.5,685.6 129.5,684.7 130.5,683.8 131.5,683 132.5,682.1 133.5,681.4 134.5,680.8 135.5,680.3 136.5,679.7 137.5,679.2 138.5,678.6 139.5,678 140.5,677.2 141.5,676.4 142.5,675.4 143.5,674.4 144.5,673.2 145.5,671.9 146.5,670.6 147.5,669.3 148.5,667.9 149.5,666.5 150.5,664.9 151.5,663.2 152.5,661.5 153.5,659.7 154.5,657.9 155.5,656.2 156.5,654.5 157.5,653 158.5,651.5 159.5,650 160.5,648.7 161.5,647.3 162.5,646 163.5,644.6 164.5,643.2 165.5,641.8 166.5,640.3 167.5,638.8 168.5,637.2 169.5,635.5 170.5,633.8 171.5,632.1 172.5,630.4 173.5,628.8 174.5,627.3 175.5,626 176.5,624.6 177.5,623.3 178.5,622 179.5,620.7 180.5,619.5 181.5,618.4 182.5,617.3 183.5,616.4 184.5,615.5 185.5,614.7 186.5,613.9 187.5,613.2 188.5,612.6 189.5,611.9 190.5,611.3 191.5,610.6 192.5,609.9 193.5,609.2 194.5,608.5 195.5,607.7 196.5,606.9 197.5,606.2 198.5,605.5 199.5,604.8 200.5,604.2 201.5,603.7 202.5,603.2 203.5,602.8 204.5,602.4 205.5,602.1 206.5,601.9 207.5,602 208.5,602.3 209.5,602.8 210.5,603.4 211.5,604.1 212.5,604.7 213.5,605.3 214.5,605.7 215.5,606.2 216.5,606.8 217.5,607.3 218.5,607.8 219.5,608.2 220.5,608.6 221.5,608.8 222.5,608.9 223.5,608.9 224.5,608.8 225.5,608.7 226.5,608.5 227.5,608.4 228.5,608.2 229.5,608.1 230.5,608 231.5,608 232.5,608.1 233.5,608.5 234.5,608.9 235.5,609.4 236.5,609.8 237.5,610.1 238.5,610.3 239.5,610.4 240.5,610.4 241.5,610.5 242.5,610.5 243.5,610.6 244.5,610.6 245.5,610.7 246.5,610.7 247.5,610.7 248.5,610.7 249.5,610.7 250.5,610.7 251.5,610.6 252.5,610.5 253.5,610.4 254.5,610.3 255.5,610.2 256.5,610 257.5,609.8 258.5,609.5 259.5,608.8 260.5,607.8 261.5,606.7 262.5,605.8 263.5,605.1 264.5,604.4 265.5,603.8 266.5,603.3 267.5,602.7 268.5,602.2 269.5,601.6 270.5,601 271.5,600.3 272.5,599.6 273.5,598.7 274.5,597.8 275.5,596.9 276.5,595.8 277.5,594.8 278.5,593.7 279.5,592.6 280.5,591.4 281.5,590.2 282.5,588.9 283.5,587.5 284.5,586.1 285.5,584.7 286.5,583.2 287.5,581.7 288.5,580.2 289.5,578.7 290.5,577.1 291.5,575.5 292.5,573.9 293.5,572.2 294.5,570.6 295.5,568.9 296.5,567.4 297.5,565.9 298.5,564.4 299.5,562.9 300.5,561.3 301.5,559.7 302.5,558.3 303.5,557.2 304.5,556.4 305.5,556.1 306.5,556 307.5,555.8 308.5,555.8 309.5,555.7 310.5,555.6 311.5,555.4 312.5,555.2 313.5,554.6 314.5,553.6 315.5,552.3 316.5,551 317.5,549.5 318.5,548.2 319.5,547.1 320.5,546 321.5,545 322.5,544 323.5,543.1 324.5,542.1 325.5,541.1 326.5,540.1 327.5,539.1 328.5,538.2 329.5,537.2 330.5,536.2 331.5,535.2 332.5,534.2 333.5,533.2 334.5,532 335.5,530.8 336.5,529.5 337.5,528.3 338.5,527.1 339.5,526.1 340.5,525.4 341.5,524.7 342.5,524.2 343.5,523.6 344.5,523.2 345.5,522.7 346.5,522.3 347.5,521.9 348.5,521.5 349.5,521.2 350.5,520.8 351.5,520.5 352.5,520.2 353.5,519.8 354.5,519.5 355.5,519.2 356.5,518.9 357.5,518.5 358.5,518.1 359.5,517.7 360.5,517.1 361.5,516.6 362.5,516.1 363.5,515.6 364.5,515.3 365.5,515 366.5,514.9 367.5,515 368.5,515.3 369.5,515.7 370.5,516.2 371.5,516.8 372.5,517.2 373.5,517.6 374.5,517.8 375.5,518 376.5,518.2 377.5,518.4 378.5,518.6 379.5,518.7 380.5,518.9 381.5,519 382.5,519.1 383.5,519.2 384.5,519.3 385.5,519.3 386.5,519.3 387.5,519.1 388.5,518.8 389.5,518.4 390.5,517.9 391.5,517.4 392.5,516.9 393.5,516.5 394.5,515.9 395.5,515.4 396.5,514.8 397.5,514.1 398.5,513.4 399.5,512.7 400.5,511.9 401.5,511 402.5,510.1 403.5,509 404.5,507.9 405.5,506.8 406.5,505.6 407.5,504.4 408.5,503 409.5,501.6 410.5,500.1 411.5,498.5 412.5,497 413.5,495.3 414.5,493.7 415.5,492.2 416.5,490.5 417.5,488.8 418.5,487.1 419.5,485.3 420.5,483.6 421.5,481.9 422.5,480.2 423.5,478.6 424.5,477 425.5,475.6 426.5,474.2 427.5,472.9 428.5,471.6 429.5,470.3 430.5,469.1 431.5,467.9 432.5,466.8 433.5,465.7 434.5,464.6 435.5,463.6 436.5,462.6 437.5,461.6 438.5,460.8 439.5,460 440.5,459.3 441.5,458.6 442.5,457.9 443.5,457.2 444.5,456.4 445.5,455.5 446.5,454.5 447.5,453.4 448.5,452.2 449.5,451 450.5,449.7 451.5,448.4 452.5,447.1 453.5,445.8 454.5,444.5 455.5,443.2 456.5,441.9 457.5,440.5 458.5,439.1 459.5,437.7 460.5,436.3 461.5,434.8 462.5,433.3 463.5,431.6 464.5,429.9 465.5,428.2 466.5,426.3 467.5,424.5 468.5,422.6 469.5,420.8 470.5,418.9 471.5,417.1 472.5,415.3 473.5,413.3 474.5,411.3 475.5,409.4 476.5,407.7 477.5,406.1 478.5,404.9 479.5,403.9 480.5,402.9 481.5,402.1 482.5,401.4 483.5,400.7 484.5,400.1 485.5,399.6 486.5,399.1 487.5,398.6 488.5,398.1 489.5,397.7 490.5,397.2 491.5,396.7 492.5,396.1 493.5,395.4 494.5,394.6 495.5,393.7 496.5,392.8 497.5,391.9 498.5,391.1 499.5,390.5 500.5,390.2 501.5,390.1 502.5,390.8 503.5,392 504.5,393.5 505.5,395 506.5,396.2 507.5,397.1 508.5,397.9 509.5,398.6 510.5,399.3 511.5,400 512.5,400.7 513.5,401.5 514.5,402.4 515.5,403.4 516.5,404.4 517.5,405.4 518.5,406.3 519.5,407.1 520.5,407.6 521.5,408 522.5,408.3 523.5,408.6 524.5,408.8 525.5,409 526.5,409.2 527.5,409.4 528.5,409.6 529.5,409.7 530.5,409.9 531.5,410.1 532.5,410.2 533.5,410.3 534.5,410.3 535.5,409.9 536.5,408.8 537.5,407.3 538.5,405.5 539.5,403.8 540.5,402.4 541.5,400.9 542.5,399.5 543.5,398 544.5,396.5 545.5,394.9 546.5,393.3 547.5,391.7 548.5,390 549.5,388.3 550.5,386.5 551.5,384.7 552.5,382.9 553.5,381 554.5,379.2 555.5,377.3 556.5,375.4 557.5,373.3 558.5,371.3 559.5,369.2 560.5,367.1 561.5,365 562.5,363 563.5,361.1 564.5,359.3 565.5,357.7 566.5,356.2 567.5,354.7 568.5,353.1 569.5,351.3 570.5,349.3 571.5,347.2 572.5,345 573.5,342.9 574.5,340.9 575.5,339.1 576.5,337.6 577.5,336.1 578.5,334.8 579.5,333.5 580.5,332.3 581.5,331.2 582.5,330 583.5,328.9 584.5,327.7 585.5,326.5 586.5,325.1 587.5,323.7 588.5,322.2 589.5,320.6 590.5,318.9 591.5,317 592.5,315.2 593.5,313.2 594.5,311.3 595.5,309.3 596.5,307.3 597.5,305.4 598.5,303.4 599.5,301.6 600.5,299.7 601.5,297.9 602.5,296.1 603.5,294.3 604.5,292.5 605.5,290.7 606.5,289 607.5,287.2 608.5,285.5 609.5,283.8 610.5,282.2 611.5,280.7 612.5,279.1 613.5,277.7 614.5,276.3 615.5,275 616.5,273.7 617.5,272.4 618.5,271.2 619.5,269.9 620.5,268.7 621.5,267.5 622.5,266.3 623.5,265 624.5,263.7 625.5,262.4 626.5,261.2 627.5,259.9 628.5,258.7 629.5,257.5 630.5,256.2 631.5,254.9 632.5,253.6 633.5,252.1 634.5,250.6 635.5,249 636.5,247.3 637.5,245.3 638.5,243.2 639.5,241 640.5,238.5 641.5,235.8 642.5,233 643.5,230 644.5,226.9 645.5,223.9 646.5,220.9 647.5,218 648.5,215.1 649.5,212.2 650.5,209.3 651.5,206.4 652.5,203.6 653.5,201.1 654.5,198.9 655.5,196.8 656.5,194.7 657.5,192.7 658.5,191.2 659.5,190.2 660.5,189.7 661.5,189.4 662.5,189.3 663.5,190.1 664.5,191.7 665.5,193.3 666.5,194.2 667.5,194.9 668.5,195.5 669.5,196.1 670.5,196.6 671.5,197 672.5,197.4 673.5,197.7 674.5,197.9 675.5,198.2 676.5,198.4 677.5,198.6 678.5,198.8 679.5,199 680.5,199.1 681.5,199.3 682.5,199.5 683.5,199.6 684.5,199.7 685.5,199.8 686.5,199.7 687.5,198.6 688.5,196.8 689.5,194.4 690.5,192 691.5,189.9 692.5,187.9 693.5,185.9 694.5,183.8 695.5,181.8 696.5,179.7 697.5,177.8 698.5,175.9 699.5,174.1 700.5,172.2 701.5,170.4 702.5,168.8 703.5,167.5 704.5,166.5 705.5,165.5 706.5,164.7 707.5,164.1 708.5,163.8 709.5,164.1 710.5,164.9 711.5,166.2 712.5,167.7 713.5,169.4 714.5,171.8 715.5,175 716.5,178.7 717.5,182.4 718.5,186 719.5,189.9 720.5,194 721.5,198.1 722.5,202.2 723.5,206.2 724.5,210.5 725.5,214.9 726.5,219.1 727.5,222.8 728.5,225.8 729.5,228.3 730.5,230.4 731.5,232.3 732.5,234.2 733.5,236.3 734.5,238.7 735.5,241.1 736.5,243.6 737.5,246.3 738.5,249.1 739.5,252.2 740.5,255.8 741.5,259.8 742.5,263.8 743.5,267.6 744.5,270.9 745.5,273.9 746.5,276.8 747.5,279.5 748.5,282 749.5,284.1 750.5,286 751.5,287.7 752.5,289.4 753.5,290.9 754.5,292.3 755.5,293.6 756.5,294.8 757.5,295.9 758.5,297.1 759.5,298.1 760.5,299 761.5,299.8 762.5,300.5 763.5,301.2 764.5,301.9 765.5,302.4 766.5,302.7 767.5,302.8 768.5,302.5 769.5,302.1 770.5,301.5 771.5,301.1 772.5,301 773.5,301 774.5,301.1 775.5,301.1 776.5,301.2 777.5,301.3 778.5,301.4 779.5,301.5 780.5,301.7 781.5,301.9 782.5,302.3 783.5,302.7 784.5,303.1 785.5,303.6 786.5,304.3 787.5,305.2 788.5,306.3 789.5,307.4 790.5,308.7 791.5,310.5 792.5,312.5 793.5,314.2 794.5,315.2 795.5,315.3 796.5,315.2 797.5,315 798.5,314.8 799.5,314.6 800.5,314.5 801.5,314.6 802.5,314.9 803.5,315.6 804.5,316.4 805.5,317.4 806.5,318.3 807.5,319.1 808.5,319.9 809.5,320.7 810.5,321.5 811.5,322.4 812.5,323.3 813.5,324.2 814.5,325.2 815.5,326.2 816.5,327.4 817.5,328.6 818.5,330 819.5,331.5 820.5,333 821.5,334.7 822.5,336.4 823.5,338.2 824.5,340.4 825.5,342.7 826.5,345.2 827.5,347.7 828.5,350 829.5,352.1 830.5,354 831.5,355.6 832.5,357.1 833.5,358.5 834.5,359.9 835.5,361.3 836.5,362.9 837.5,364.6 838.5,366.3 839.5,368.2 840.5,370.2 841.5,372.3 842.5,374.7 843.5,377.6 844.5,380.9 845.5,384.4 846.5,387.6 847.5,390.3 848.5,392.7 849.5,395 850.5,397.1 851.5,399 852.5,400.9 853.5,402.6 854.5,404.2 855.5,405.7 856.5,407.1 857.5,408.5 858.5,409.8 859.5,410.9 860.5,412 861.5,413 862.5,414 863.5,415 864.5,416 865.5,416.8 866.5,417.6 867.5,418 868.5,418.2 869.5,418 870.5,417.5 871.5,416.8 872.5,416 873.5,415.2 874.5,414.4 875.5,413.9 876.5,413.5 877.5,413.1 878.5,412.7 879.5,412.4 880.5,412.2 881.5,412.1 882.5,412.4 883.5,413.3 884.5,414.8 885.5,416.5 886.5,418.2 887.5,419.6 888.5,420.8 889.5,422.1 890.5,423.4 891.5,424.6 892.5,425.5 893.5,426.1 894.5,426.3 895.5,426.4 896.5,426.5 897.5,426.5 898.5,426.6 899.5,426.7 900.5,426.7 901.5,426.7 902.5,426.6 903.5,426.3 904.5,425.6 905.5,424.8 906.5,423.9 907.5,423 908.5,422.1 909.5,421.3 910.5,420.4 911.5,419.5 912.5,418.5 913.5,417.6 914.5,416.7 915.5,415.9 916.5,415.3 917.5,414.7 918.5,414.2 919.5,413.7 920.5,413.2 921.5,412.8 922.5,412.3 923.5,411.9 924.5,411.4 925.5,410.9 926.5,410.4 927.5,409.9 928.5,409.5 929.5,409.1 930.5,408.7 931.5,408.4 932.5,408.3 933.5,408.2 934.5,408.3 935.5,408.6 936.5,408.9 937.5,409.4 938.5,409.8 939.5,410.3 940.5,410.6 941.5,410.8 942.5,410.9 943.5,410.8 944.5,410.5 945.5,410.1 946.5,409.7 947.5,409.2 948.5,408.7 949.5,408.3 950.5,407.9 951.5,407.6 952.5,407.3 953.5,407 954.5,406.8 955.5,406.5 956.5,406.3 957.5,406.1 958.5,406 959.5,405.9 960.5,405.9 961.5,406 962.5,406.1 963.5,406.3 964.5,406.5 965.5,406.8 966.5,407.1 967.5,407.3 968.5,407.6 969.5,408 970.5,408.4 971.5,408.9 972.5,409.5 973.5,410.1 974.5,410.6 975.5,411.1 976.5,411.5 977.5,411.9 978.5,412.2 979.5,412.5 980.5,412.9 981.5,413.3 982.5,413.8 983.5,414.5 984.5,415.4 985.5,416.5 986.5,417.8 987.5,419.1 988.5,420.4 989.5,421.6 990.5,422.7 991.5,424 992.5,425.4 993.5,426.6 994.5,427.8 995.5,428.8 996.5,429.5 997.5,430 998.5,430.4 999.5,430.8 1000.5,431.1 1001.5,431.4 1002.5,431.6 1003.5,431.8 1004.5,431.9 1005.5,432 1006.5,432.1 1007.5,432.2 1008.5,432.2 1009.5,432.3 1010.5,432.3 1011.5,432.3 1012.5,432.2 1013.5,432.1 1014.5,431.9 1015.5,431.7 1016.5,431.5 1017.5,431.3 1018.5,431.1 1019.5,430.9 1020.5,430.7 1021.5,430.6 1022.5,430.4 1023.5,430.2 1024.5,430 1025.5,429.8 1026.5,429.5 1027.5,429.3 1028.5,429 1029.5,428.6 1030.5,428 1031.5,427.4 1032.5,426.7 1033.5,425.9 1034.5,425.2 1035.5,424.6 1036.5,424.1 1037.5,423.7 1038.5,423.5 1039.5,423.5 1040.5,423.6 1041.5,423.6 1042.5,423.8 1043.5,423.9 1044.5,424 1045.5,424.1 1046.5,424.2 1047.5,424.3 1048.5,424.4 1049.5,424.4 1050.5,424.3 1051.5,424 1052.5,423.6 1053.5,423.1 1054.5,422.6 1055.5,422 1056.5,421.4 1057.5,420.9 1058.5,420.5 1059.5,420.1 1060.5,419.9 1061.5,419.7 1062.5,419.5 1063.5,419.4 1064.5,419.2 1065.5,419.1 1066.5,419 1067.5,418.8 1068.5,418.6 1069.5,418.4 1070.5,418.2 1071.5,417.8 1072.5,417.4 1073.5,416.9 1074.5,416.3 1075.5,415.6 1076.5,414.8 1077.5,413.7 1078.5,412.3 1079.5,410.5 1080.5,408.5 1081.5,406.5 1082.5,404.6 1083.5,402.7 1084.5,400.8 1085.5,398.9 1086.5,396.9 1087.5,394.9 1088.5,392.8 1089.5,390.8 1090.5,388.7 1091.5,386.6 1092.5,384.5 1093.5,382.3 1094.5,380 1095.5,377.7 1096.5,375.5 1097.5,373.2 1098.5,371 1099.5,368.9 1100.5,366.9 1101.5,364.9 1102.5,363 1103.5,361.1 1104.5,359.3 1105.5,357.5 1106.5,355.7 1107.5,354 1108.5,352.4 1109.5,350.9 1110.5,349.4 1111.5,347.9 1112.5,346.4 1113.5,345 1114.5,343.7 1115.5,342.4 1116.5,341.3 1117.5,340.4 1118.5,339.5 1119.5,338.9 1120.5,338.2 1121.5,337.7 1122.5,337.1 1123.5,336.6 1124.5,336 1125.5,335.3 1126.5,334.5 1127.5,333.7 1128.5,332.9 1129.5,332.1 1130.5,331.3 1131.5,330.6 1132.5,330.1 1133.5,329.5 1134.5,329 1135.5,328.5 1136.5,328.1 1137.5,327.6 1138.5,327.1 1139.5,326.6 1140.5,326.1 1141.5,325.7 1142.5,325.2 1143.5,324.6 1144.5,323.9 1145.5,323 1146.5,321.5 1147.5,319.6 1148.5,317.3 1149.5,315 1150.5,312.8 1151.5,311 1152.5,309.3 1153.5,307.8 1154.5,306.2 1155.5,304.7 1156.5,303 1157.5,301.1 1158.5,299.2 1159.5,297.1 1160.5,295 1161.5,293 1162.5,291 1163.5,289 1164.5,287.1 1165.5,285.1 1166.5,283.1 1167.5,281.3 1168.5,279.7 1169.5,278.3 1170.5,277 1171.5,275.6 1172.5,274.5 1173.5,273.7 1174.5,273.3 1175.5,273.4 1176.5,273.6 1177.5,273.9 1178.5,274.2 1179.5,274.3 1180.5,274.2 1181.5,273.8 1182.5,273.3 1183.5,272.7 1184.5,272.1 1185.5,271.7 1186.5,271.2 1187.5,270.7 1188.5,270.4 1189.5,270.1 1190.5,270.1 1191.5,270.2 1192.5,270.5 1193.5,270.9 1194.5,271.3 1195.5,272.5 1196.5,274.5 1197.5,276.7 1198.5,278.7 1199.5,280.7 1200.5,282.8 1201.5,284.8 1202.5,286.7" stroke="#e53935" stroke-width="1.05" stroke-linejoin="round"/>
<polyline points="11.5,697 12.5,696.6 13.5,696 14.5,695.4 15.5,694.6 16.5,693.7 17.5,692.8 18.5,691.7 19.5,690.7 20.5,689.5 21.5,688.3 22.5,687.1 23.5,685.6 24.5,683.8 25.5,681.9 26.5,679.9 27.5,677.9 28.5,676 29.5,674.3 30.5,672.9 31.5,671.5 32.5,670.2 33.5,668.9 34.5,667.7 35.5,666.6 36.5,665.5 37.5,664.5 38.5,663.5 39.5,662.4 40.5,661.4 41.5,660.5 42.5,659.7 43.5,659.1 44.5,658.6 45.5,658.2 46.5,657.9 47.5,657.6 48.5,657.3 49.5,657 50.5,656.7 51.5,656.5 52.5,656.3 53.5,656.2 54.5,656.1 55.5,656 56.5,656 57.5,656.2 58.5,656.6 59.5,657.3 60.5,658 61.5,658.7 62.5,659.4 63.5,660.4 64.5,661.6 65.5,663 66.5,664.3 67.5,665.4 68.5,666.3 69.5,666.7 70.5,666.6 71.5,666.4 72.5,666.1 73.5,665.8 74.5,665.5 75.5,665.3 76.5,665.2 77.5,665.9 78.5,667.4 79.5,669.3 80.5,671.2 81.5,672.6 82.5,673.6 83.5,674.5 84.5,675.3 85.5,676 86.5,676.7 87.5,677.5 88.5,678.2 89.5,679 90.5,680.1 91.5,681 92.5,681.5 93.5,681.3 94.5,680.8 95.5,680.2 96.5,680 97.5,680.7 98.5,682.2 99.5,684.1 100.5,685.6 101.5,686.7 102.5,687.6 103.5,688.5 104.5,689.3 105.5,690.1 106.5,690.8 107.5,691.7 108.5,692.7 109.5,693.6 110.5,694.4 111.5,694.8 112.5,694.9 113.5,694.6 114.5,694.2 115.5,693.8 116.5,693.5 117.5,693.3 118.5,693.2 119.5,693.1 120.5,693.1 121.5,693 122.5,692.9 123.5,692.8 124.5,692.5 125.5,691.8 126.5,690.7 127.5,689.5 128.5,688.2 129.5,686.7 130.5,684.9 131.5,682.7 132.5,680.5 133.5,678.4 134.5,676.5 135.5,674.7 136.5,672.9 137.5,671.2 138.5,669.4 139.5,667.6 140.5,665.8 141.5,663.9 142.5,661.9 143.5,659.9 144.5,657.9 145.5,655.9 146.5,653.8 147.5,651.8 148.5,649.6 149.5,647.3 150.5,645 151.5,642.7 152.5,640.4 153.5,638.2 154.5,636 155.5,633.9 156.5,632 157.5,630.2 158.5,628.5 159.5,627 160.5,625.5 161.5,624.1 162.5,622.7 163.5,621.4 164.5,620.1 165.5,618.8 166.5,617.6 167.5,616.4 168.5,615.3 169.5,614.3 170.5,613.2 171.5,612.1 172.5,610.7 173.5,609 174.5,607 175.5,604.9 176.5,602.7 177.5,600.7 178.5,598.7 179.5,596.5 180.5,594.4 181.5,592.6 182.5,591.5 183.5,591.4 184.5,591.5 185.5,591.5 186.5,591.6 187.5,591.8 188.5,591.9 189.5,592 190.5,592.1 191.5,592.2 192.5,592.2 193.5,592.1 194.5,591.9 195.5,591.5 196.5,591 197.5,590.5 198.5,590.1 199.5,589.7 200.5,589.6 201.5,589.6 202.5,589.7 203.5,589.9 204.5,590.1 205.5,590.4 206.5,590.9 207.5,592.5 208.5,594.7 209.5,596.9 210.5,598.7 211.5,600.3 212.5,601.8 213.5,603.2 214.5,604.4 215.5,605.4 216.5,606.3 217.5,607.1 218.5,607.9 219.5,608.7 220.5,609.4 221.5,610 222.5,610.4 223.5,610.6 224.5,610.7 225.5,610.4 226.5,609.9 227.5,609.3 228.5,608.7 229.5,608.2 230.5,608 231.5,608.3 232.5,608.9 233.5,609.8 234.5,610.6 235.5,611.3 236.5,611.6 237.5,611.6 238.5,611.5 239.5,611.4 240.5,611.2 241.5,611.1 242.5,610.9 243.5,610.8 244.5,610.7 245.5,610.7 246.5,610.7 247.5,610.7 248.5,610.7 249.5,610.7 250.5,610.7 251.5,610.7 252.5,610.7 253.5,610.7 254.5,610.7 255.5,610.7 256.5,610.6 257.5,609.7 258.5,608.2 259.5,606.6 260.5,605.1 261.5,603.6 262.5,602 263.5,600.6 264.5,599.5 265.5,598.8 266.5,598.3 267.5,597.9 268.5,597.5 269.5,597 270.5,596.1 271.5,594.6 272.5,592.6 273.5,590.3 274.5,587.9 275.5,585.7 276.5,583.3 277.5,580.9 278.5,578.4 279.5,576 280.5,573.8 281.5,571.8 282.5,569.8 283.5,567.9 284.5,566.1 285.5,564.3 286.5,562.6 287.5,560.9 288.5,559.3 289.5,557.7 290.5,556.2 291.5,554.8 292.5,553.5 293.5,552.3 294.5,551 295.5,549.7 296.5,548.2 297.5,546.7 298.5,545 299.5,542.8 300.5,540.4 301.5,537.9 302.5,535.8 303.5,534.2 304.5,532.8 305.5,531.8 306.5,531.9 307.5,533.6 308.5,535.9 309.5,537.8 310.5,539.1 311.5,540.4 312.5,541.2 313.5,541.1 314.5,540.1 315.5,538.4 316.5,536.5 317.5,535 318.5,533.7 319.5,532.4 320.5,531.2 321.5,530 322.5,528.8 323.5,527.6 324.5,526.4 325.5,525.2 326.5,524 327.5,522.9 328.5,521.7 329.5,520.6 330.5,519.4 331.5,518.1 332.5,516.9 333.5,515.5 334.5,513.8 335.5,511.9 336.5,510.1 337.5,508.7 338.5,507.9 339.5,507.6 340.5,507.4 341.5,507.2 342.5,507.1 343.5,507 344.5,507.1 345.5,507.5 346.5,508 347.5,508.7 348.5,509.4 349.5,510 350.5,510.4 351.5,510.6 352.5,510.8 353.5,511 354.5,511.1 355.5,511.2 356.5,511.3 357.5,511.4 358.5,511.4 359.5,511.2 360.5,510.7 361.5,509.9 362.5,508.9 363.5,507.9 364.5,507 365.5,506.4 366.5,506.1 367.5,507.1 368.5,509.5 369.5,512.1 370.5,513.7 371.5,514.8 372.5,515.7 373.5,516.5 374.5,517.1 375.5,517.6 376.5,518.1 377.5,518.5 378.5,518.9 379.5,519.3 380.5,519.6 381.5,519.9 382.5,520.1 383.5,520.2 384.5,520.2 385.5,520.1 386.5,519.8 387.5,519.5 388.5,519 389.5,518.5 390.5,518 391.5,517.4 392.5,516.8 393.5,516 394.5,515 395.5,513.9 396.5,512.8 397.5,511.5 398.5,510.1 399.5,508.7 400.5,507.1 401.5,505.1 402.5,502.7 403.5,500.2 404.5,497.5 405.5,495 406.5,492.6 407.5,490.3 408.5,488 409.5,485.7 410.5,483.5 411.5,481.3 412.5,479.1 413.5,476.9 414.5,474.8 415.5,472.7 416.5,470.6 417.5,468.6 418.5,466.6 419.5,464.6 420.5,462.7 421.5,460.8 422.5,458.9 423.5,457.1 424.5,455.2 425.5,453.4 426.5,451.6 427.5,449.9 428.5,448.3 429.5,446.8 430.5,445.1 431.5,443.5 432.5,441.8 433.5,440.4 434.5,439.2 435.5,438.6 436.5,438.4 437.5,438.4 438.5,438.4 439.5,438.4 440.5,438.4 441.5,438.4 442.5,438.1 443.5,437.2 444.5,436 445.5,434.6 446.5,433.4 447.5,432.4 448.5,431.5 449.5,430.5 450.5,429.6 451.5,428.6 452.5,427.6 453.5,426.5 454.5,425.2 455.5,423.9 456.5,422.6 457.5,421.1 458.5,419.5 459.5,417.8 460.5,416.1 461.5,414.1 462.5,411.8 463.5,409.2 464.5,406.5 465.5,403.8 466.5,401.1 467.5,398.7 468.5,396.5 469.5,394.3 470.5,392.1 471.5,390 472.5,388.1 473.5,386.2 474.5,384.5 475.5,382.9 476.5,381.3 477.5,379.6 478.5,378 479.5,376.7 480.5,375.7 481.5,375.1 482.5,375.2 483.5,375.8 484.5,376.8 485.5,377.9 486.5,378.8 487.5,379.4 488.5,379.5 489.5,379.4 490.5,379.1 491.5,378.8 492.5,378.4 493.5,378.1 494.5,377.7 495.5,377.1 496.5,376.4 497.5,375.6 498.5,374.9 499.5,374.4 500.5,374.3 501.5,375.3 502.5,377.1 503.5,379.4 504.5,382.2 505.5,386.2 506.5,390.9 507.5,395.3 508.5,398.5 509.5,401 510.5,403.2 511.5,405.1 512.5,406.9 513.5,408.5 514.5,410.1 515.5,411.5 516.5,412.9 517.5,414.1 518.5,415.2 519.5,416.2 520.5,417.2 521.5,418 522.5,418.2 523.5,418.2 524.5,418.1 525.5,418 526.5,417.8 527.5,417.7 528.5,417.5 529.5,417.3 530.5,416.9 531.5,416.4 532.5,415.7 533.5,414.9 534.5,413.9 535.5,412.4 536.5,410.1 537.5,407.1 538.5,404 539.5,400.9 540.5,398 541.5,395 542.5,392 543.5,388.9 544.5,385.8 545.5,382.8 546.5,379.8 547.5,377 548.5,374.4 549.5,371.8 550.5,369.2 551.5,366.7 552.5,364.2 553.5,361.6 554.5,359 555.5,356.3 556.5,353.6 557.5,350.7 558.5,347.7 559.5,344.7 560.5,341.7 561.5,338.8 562.5,335.9 563.5,333.2 564.5,330.5 565.5,327.6 566.5,324.7 567.5,322 568.5,319.4 569.5,317.1 570.5,315.3 571.5,314 572.5,313 573.5,312.2 574.5,311.5 575.5,310.8 576.5,310.2 577.5,309.7 578.5,309.2 579.5,308.7 580.5,308.1 581.5,307.4 582.5,306.6 583.5,305.6 584.5,304.4 585.5,303.1 586.5,301.6 587.5,300.1 588.5,298.5 589.5,296.9 590.5,295.3 591.5,293.5 592.5,291.5 593.5,289.5 594.5,287.5 595.5,285.4 596.5,283.2 597.5,281.1 598.5,278.7 599.5,276.2 600.5,273.7 601.5,271.3 602.5,269.1 603.5,267.3 604.5,265.8 605.5,264.5 606.5,263.4 607.5,262.4 608.5,261.4 609.5,260.4 610.5,259.3 611.5,258 612.5,256.8 613.5,255.5 614.5,254.2 615.5,252.9 616.5,251.5 617.5,250.2 618.5,248.8 619.5,247.5 620.5,246.2 621.5,245 622.5,243.7 623.5,242.5 624.5,241.2 625.5,239.9 626.5,238.6 627.5,237.3 628.5,235.9 629.5,234.5 630.5,233.1 631.5,231.7 632.5,230.2 633.5,228.5 634.5,226.6 635.5,224.3 636.5,221.5 637.5,218.1 638.5,214.3 639.5,210.2 640.5,205.9 641.5,201.7 642.5,197.7 643.5,193.4 644.5,188.9 645.5,184.2 646.5,179.7 647.5,175.3 648.5,171.4 649.5,168 650.5,164.8 651.5,161.8 652.5,159.1 653.5,156.8 654.5,155 655.5,153.6 656.5,152.2 657.5,151.2 658.5,150.7 659.5,151.1 660.5,153.5 661.5,157.1 662.5,160.6 663.5,164.5 664.5,168.8 665.5,172.9 666.5,176.3 667.5,179.4 668.5,182.3 669.5,184.9 670.5,187 671.5,188.9 672.5,190.6 673.5,192.2 674.5,193.5 675.5,194.5 676.5,195.4 677.5,196.3 678.5,197.1 679.5,197.8 680.5,198.4 681.5,198.7 682.5,198.9 683.5,198.8 684.5,198.3 685.5,197.7 686.5,196.6 687.5,193.1 688.5,188.2 689.5,183.5 690.5,179.6 691.5,175.8 692.5,172 693.5,168.4 694.5,165.1 695.5,161.9 696.5,158.9 697.5,156 698.5,153.4 699.5,151 700.5,148.9 701.5,146.9 702.5,145 703.5,143.6 704.5,142.7 705.5,142.3 706.5,141.9 707.5,141.8 708.5,143.3 709.5,146.8 710.5,150.8 711.5,154.3 712.5,157.9 713.5,162.1 714.5,167.2 715.5,174.4 716.5,182.5 717.5,190.4 718.5,198.5 719.5,206.6 720.5,214.6 721.5,222.5 722.5,230.3 723.5,238 724.5,245.9 725.5,253.9 726.5,260.6 727.5,266 728.5,270.8 729.5,274.6 730.5,277.4 731.5,279.8 732.5,281.6 733.5,282.9 734.5,283.5 735.5,284.1 736.5,285.9 737.5,291.5 738.5,299 739.5,305.7 740.5,311.2 741.5,316.5 742.5,321.4 743.5,325.5 744.5,328.6 745.5,331.6 746.5,334.2 747.5,335.9 748.5,336.4 749.5,335.8 750.5,334.6 751.5,333.5 752.5,332.9 753.5,333.1 754.5,333.8 755.5,334.7 756.5,335.4 757.5,335.5 758.5,335.1 759.5,334.3 760.5,333.3 761.5,332.2 762.5,331.1 763.5,330 764.5,328.8 765.5,327.6 766.5,326.2 767.5,324.8 768.5,323.2 769.5,321.3 770.5,319.2 771.5,316.9 772.5,314.8 773.5,313.1 774.5,311.9 775.5,310.7 776.5,309.7 777.5,308.9 778.5,308.4 779.5,308.3 780.5,308.4 781.5,308.5 782.5,308.7 783.5,309 784.5,309.4 785.5,309.8 786.5,310.4 787.5,312 788.5,314.4 789.5,317.2 790.5,319.7 791.5,322.5 792.5,325.6 793.5,328.5 794.5,330.1 795.5,329.9 796.5,328 797.5,325.5 798.5,323.3 799.5,322.3 800.5,322 801.5,321.8 802.5,321.6 803.5,321.5 804.5,321.5 805.5,322.4 806.5,324.6 807.5,327.3 808.5,329.6 809.5,331.1 810.5,332.1 811.5,333 812.5,333.8 813.5,334.6 814.5,335.5 815.5,336.7 816.5,338.3 817.5,340.5 818.5,343.2 819.5,346.2 820.5,349.3 821.5,352.3 822.5,355.5 823.5,358.8 824.5,362.3 825.5,365.7 826.5,368.9 827.5,372.1 828.5,375.5 829.5,378.7 830.5,381.7 831.5,384.1 832.5,385.9 833.5,387.3 834.5,388.5 835.5,389.7 836.5,391.2 837.5,393.1 838.5,395.6 839.5,398.6 840.5,401.8 841.5,405.2 842.5,408.8 843.5,413.1 844.5,417.8 845.5,422.6 846.5,427.1 847.5,430.8 848.5,434.3 849.5,437.7 850.5,440.2 851.5,441.1 852.5,441.3 853.5,441.5 854.5,441.6 855.5,441.8 856.5,441.9 857.5,441.9 858.5,442 859.5,442 860.5,442 861.5,442 862.5,441.9 863.5,441.8 864.5,441.6 865.5,441.5 866.5,441.3 867.5,441 868.5,439.5 869.5,435.8 870.5,431.1 871.5,426.9 872.5,424 873.5,421.4 874.5,418.9 875.5,416.8 876.5,415.3 877.5,414.6 878.5,414.3 879.5,414 880.5,413.8 881.5,413.9 882.5,415.2 883.5,417.7 884.5,420.7 885.5,423.8 886.5,426.3 887.5,429.1 888.5,432.1 889.5,435 890.5,437.4 891.5,439 892.5,439.3 893.5,439.1 894.5,438.8 895.5,438.4 896.5,437.8 897.5,437.2 898.5,436.6 899.5,435.9 900.5,435.1 901.5,434.1 902.5,433 903.5,431.7 904.5,430.1 905.5,428 906.5,425.7 907.5,423.2 908.5,420.9 909.5,418.7 910.5,416.5 911.5,414.3 912.5,412.2 913.5,410.5 914.5,409.1 915.5,408 916.5,407 917.5,406.2 918.5,405.5 919.5,405 920.5,404.7 921.5,404.4 922.5,404.1 923.5,403.9 924.5,403.7 925.5,403.5 926.5,403.3 927.5,403 928.5,402.7 929.5,402.3 930.5,402 931.5,401.8 932.5,401.6 933.5,401.7 934.5,402.4 935.5,403.6 936.5,405 937.5,406.4 938.5,407.5 939.5,408.2 940.5,408.9 941.5,409.5 942.5,410 943.5,410.2 944.5,410.3 945.5,409.9 946.5,409.3 947.5,408.5 948.5,407.7 949.5,406.9 950.5,406.2 951.5,405.7 952.5,405.3 953.5,404.9 954.5,404.5 955.5,404.2 956.5,403.8 957.5,403.6 958.5,403.4 959.5,403.3 960.5,403.3 961.5,403.5 962.5,403.8 963.5,404.2 964.5,404.7 965.5,405.2 966.5,406.2 967.5,407.4 968.5,408.8 969.5,410.1 970.5,411.4 971.5,412.3 972.5,412.9 973.5,413.6 974.5,414.1 975.5,414.6 976.5,415.1 977.5,415.7 978.5,416.1 979.5,416.5 980.5,416.9 981.5,417.4 982.5,418 983.5,419.1 984.5,420.8 985.5,422.9 986.5,425.3 987.5,427.7 988.5,429.9 989.5,432.3 990.5,434.9 991.5,437.3 992.5,439.5 993.5,441.3 994.5,443 995.5,444.6 996.5,445.9 997.5,446.4 998.5,446.2 999.5,445.6 1000.5,444.8 1001.5,444 1002.5,443.4 1003.5,442.8 1004.5,442.2 1005.5,441.6 1006.5,441 1007.5,440.4 1008.5,439.7 1009.5,439 1010.5,438.3 1011.5,437.5 1012.5,436.7 1013.5,435.9 1014.5,435.1 1015.5,434.4 1016.5,433.8 1017.5,433.2 1018.5,432.8 1019.5,432.3 1020.5,431.9 1021.5,431.4 1022.5,430.9 1023.5,430.2 1024.5,429.5 1025.5,428.6 1026.5,427.7 1027.5,426.7 1028.5,425.7 1029.5,424.6 1030.5,423.6 1031.5,422.2 1032.5,420.7 1033.5,419.2 1034.5,417.8 1035.5,416.7 1036.5,416.1 1037.5,416.1 1038.5,416.7 1039.5,417.7 1040.5,418.9 1041.5,420 1042.5,420.7 1043.5,420.9 1044.5,420.9 1045.5,420.9 1046.5,420.9 1047.5,420.9 1048.5,420.9 1049.5,420.9 1050.5,420.6 1051.5,420.1 1052.5,419.3 1053.5,418.5 1054.5,417.6 1055.5,416.9 1056.5,416.5 1057.5,416.1 1058.5,415.8 1059.5,415.6 1060.5,415.4 1061.5,415.1 1062.5,414.9 1063.5,414.7 1064.5,414.4 1065.5,414.3 1066.5,414.1 1067.5,413.9 1068.5,413.8 1069.5,413.6 1070.5,413.3 1071.5,413.1 1072.5,412.7 1073.5,412.3 1074.5,411.6 1075.5,409.9 1076.5,407.5 1077.5,404.7 1078.5,401.8 1079.5,398.2 1080.5,393.9 1081.5,389.5 1082.5,385.6 1083.5,382.3 1084.5,379.3 1085.5,376.4 1086.5,373.7 1087.5,371 1088.5,368.5 1089.5,366 1090.5,363.6 1091.5,361.3 1092.5,359.2 1093.5,357.1 1094.5,354.9 1095.5,352.7 1096.5,350.4 1097.5,347.9 1098.5,345.2 1099.5,342.4 1100.5,339.6 1101.5,336.9 1102.5,334.5 1103.5,332.2 1104.5,329.9 1105.5,327.8 1106.5,325.8 1107.5,323.9 1108.5,322.3 1109.5,320.7 1110.5,319.2 1111.5,317.8 1112.5,316.5 1113.5,315.2 1114.5,313.9 1115.5,312.6 1116.5,311.6 1117.5,311.1 1118.5,311.3 1119.5,312.3 1120.5,313.4 1121.5,314.4 1122.5,314.6 1123.5,314.6 1124.5,314.6 1125.5,314.6 1126.5,314.4 1127.5,313.7 1128.5,312.7 1129.5,311.8 1130.5,311.2 1131.5,311.3 1132.5,312.3 1133.5,313.7 1134.5,315 1135.5,315.5 1136.5,315.5 1137.5,315.5 1138.5,315.5 1139.5,315.5 1140.5,315.4 1141.5,314.9 1142.5,314.1 1143.5,313.1 1144.5,311.7 1145.5,309.2 1146.5,306 1147.5,302 1148.5,297.5 1149.5,294 1150.5,290.8 1151.5,287.9 1152.5,285.3 1153.5,283 1154.5,280.9 1155.5,279 1156.5,277.1 1157.5,275.2 1158.5,273.2 1159.5,271.3 1160.5,269.3 1161.5,267.4 1162.5,265.3 1163.5,263.2 1164.5,260.9 1165.5,258.4 1166.5,256.1 1167.5,253.9 1168.5,251.9 1169.5,249.8 1170.5,248.1 1171.5,247.6 1172.5,247.8 1173.5,248.1 1174.5,248.6 1175.5,249.3 1176.5,250.5 1177.5,252.9 1178.5,255.4 1179.5,257.2 1180.5,258.8 1181.5,260.2 1182.5,261 1183.5,261 1184.5,260.5 1185.5,259.8 1186.5,259.1 1187.5,258.6 1188.5,258.6 1189.5,259.1 1190.5,260.1 1191.5,261.2 1192.5,262.4 1193.5,263.8 1194.5,265.5 1195.5,267.9 1196.5,271.7 1197.5,276.2 1198.5,280.9 1199.5,286 1200.5,291 1201.5,295.9 1202.5,300.7" stroke="#1e88e5" stroke-width="1.15" stroke-linejoin="round"/>
</g>
<line x1="1401.5" y1="31" x2="1401.5" y2="804" stroke="#4e5055" stroke-width="1.1"/>
<line x1="12" y1="775.5" x2="1472" y2="775.5" stroke="#4e5055" stroke-width="1.2"/>
<text x="1411" y="45.9" font-size="12" fill="#595b61" textLength="51.5" lengthAdjust="spacingAndGlyphs">4,480.00</text>
<text x="1411" y="106" font-size="12" fill="#595b61" textLength="51.5" lengthAdjust="spacingAndGlyphs">4,400.00</text>
<text x="1411" y="167" font-size="12" fill="#595b61" textLength="51.5" lengthAdjust="spacingAndGlyphs">4,320.00</text>
<text x="1411" y="228.4" font-size="12" fill="#595b61" textLength="51.5" lengthAdjust="spacingAndGlyphs">4,240.00</text>
<text x="1411" y="292.2" font-size="12" fill="#595b61" textLength="51.5" lengthAdjust="spacingAndGlyphs">4,160.00</text>
<text x="1411" y="356" font-size="12" fill="#595b61" textLength="51.5" lengthAdjust="spacingAndGlyphs">4,080.00</text>
<text x="1411" y="398.2" font-size="12" fill="#595b61" textLength="51.5" lengthAdjust="spacingAndGlyphs">4,030.00</text>
<text x="1411" y="430.2" font-size="12" fill="#595b61" textLength="51.5" lengthAdjust="spacingAndGlyphs">3,990.00</text>
<text x="1411" y="464.8" font-size="12" fill="#595b61" textLength="51.5" lengthAdjust="spacingAndGlyphs">3,950.00</text>
<text x="1411" y="498.9" font-size="12" fill="#595b61" textLength="51.5" lengthAdjust="spacingAndGlyphs">3,910.00</text>
<text x="1411" y="532.9" font-size="12" fill="#595b61" textLength="51.5" lengthAdjust="spacingAndGlyphs">3,870.00</text>
<text x="1411" y="567" font-size="12" fill="#595b61" textLength="51.5" lengthAdjust="spacingAndGlyphs">3,830.00</text>
<text x="1411" y="602.1" font-size="12" fill="#595b61" textLength="51.5" lengthAdjust="spacingAndGlyphs">3,790.00</text>
<text x="1411" y="637.3" font-size="12" fill="#595b61" textLength="51.5" lengthAdjust="spacingAndGlyphs">3,750.00</text>
<text x="1411" y="672.9" font-size="12" fill="#595b61" textLength="51.5" lengthAdjust="spacingAndGlyphs">3,710.00</text>
<text x="1411" y="709.7" font-size="12" fill="#595b61" textLength="51.5" lengthAdjust="spacingAndGlyphs">3,670.00</text>
<text x="1411" y="745.9" font-size="12" fill="#595b61" textLength="51.5" lengthAdjust="spacingAndGlyphs">3,630.00</text>
<text x="64" y="795" font-size="12" text-anchor="middle" fill="#3a3d45">17</text>
<text x="133.5" y="795" font-size="12" text-anchor="middle" fill="#3a3d45">21</text>
<text x="199" y="795" font-size="12" text-anchor="middle" fill="#3a3d45">24</text>
<text x="268.5" y="795" font-size="12" text-anchor="middle" fill="#3a3d45">28</text>
<text x="333" y="795" font-size="12" text-anchor="middle" fill="#3a3d45" font-weight="bold">Oct</text>
<text x="403" y="795" font-size="12" text-anchor="middle" fill="#3a3d45">5</text>
<text x="467" y="795" font-size="12" text-anchor="middle" fill="#3a3d45">8</text>
<text x="537" y="795" font-size="12" text-anchor="middle" fill="#3a3d45">12</text>
<text x="601.5" y="795" font-size="12" text-anchor="middle" fill="#3a3d45">15</text>
<text x="671.5" y="795" font-size="12" text-anchor="middle" fill="#3a3d45">19</text>
<text x="734.5" y="795" font-size="12" text-anchor="middle" fill="#3a3d45">22</text>
<text x="805.5" y="795" font-size="12" text-anchor="middle" fill="#3a3d45">26</text>
<text x="870.5" y="795" font-size="12" text-anchor="middle" fill="#3a3d45">29</text>
<text x="940" y="795" font-size="12" text-anchor="middle" fill="#3a3d45" font-weight="bold">Nov</text>
<text x="1004" y="795" font-size="12" text-anchor="middle" fill="#3a3d45">5</text>
<text x="1074" y="795" font-size="12" text-anchor="middle" fill="#3a3d45">9</text>
<text x="1138.5" y="795" font-size="12" text-anchor="middle" fill="#3a3d45">12</text>
<text x="1208.5" y="795" font-size="12" text-anchor="middle" fill="#3a3d45">16</text>
<text x="1273" y="795" font-size="12" text-anchor="middle" fill="#3a3d45">19</text>
<text x="1343" y="795" font-size="12" text-anchor="middle" fill="#3a3d45">23</text>
<rect x="1339" y="329" width="129.5" height="19" rx="2.5" fill="#5d606b"/>
<line x1="1401.5" y1="329" x2="1401.5" y2="348" stroke="#4a4d56" stroke-width="1"/>
<text x="1344.5" y="343" font-size="12" fill="#fff" textLength="51" lengthAdjust="spacingAndGlyphs">GCZ2025</text>
<text x="1411" y="343" font-size="12" fill="#fff" textLength="51.5" lengthAdjust="spacingAndGlyphs">4,099.30</text>
<circle cx="1437.6" cy="791.3" r="10.5" fill="#f3f3f5"/>
<text x="1437.6" y="795.2" font-size="11" text-anchor="middle" fill="#555961">A</text>
<text x="11.5" y="21" font-size="12.5" fill="#131722" textLength="409.5" lengthAdjust="spacingAndGlyphs">hillbilly250 created with TradingView.com, Nov 14, 2025 09:37 UTC-8</text>
<text x="20" y="50.6" font-size="12.5" fill="#4e5057" textLength="156" lengthAdjust="spacingAndGlyphs">Gold Futures · 1h · COMEX</text>
<text x="184" y="50.6" font-size="12.5" fill="#4e5057" textLength="9" lengthAdjust="spacingAndGlyphs">O</text>
<text x="193" y="50.6" font-size="12.5" fill="#641616" textLength="51" lengthAdjust="spacingAndGlyphs">4,107.40</text>
<text x="252.5" y="50.6" font-size="12.5" fill="#4e5057" textLength="8.5" lengthAdjust="spacingAndGlyphs">H</text>
<text x="261" y="50.6" font-size="12.5" fill="#641616" textLength="50.5" lengthAdjust="spacingAndGlyphs">4,112.70</text>
<text x="320" y="50.6" font-size="12.5" fill="#4e5057" textLength="6.5" lengthAdjust="spacingAndGlyphs">L</text>
<text x="326.8" y="50.6" font-size="12.5" fill="#641616" textLength="51" lengthAdjust="spacingAndGlyphs">4,098.00</text>
<text x="386" y="50.6" font-size="12.5" fill="#4e5057" textLength="8" lengthAdjust="spacingAndGlyphs">C</text>
<text x="394" y="50.6" font-size="12.5" fill="#641616" textLength="50.5" lengthAdjust="spacingAndGlyphs">4,099.30</text>
<text x="452.5" y="50.6" font-size="12.5" fill="#641616" textLength="86.5" lengthAdjust="spacingAndGlyphs">−7.80 (−0.19%)</text>
<text x="20" y="69.8" font-size="12.5" fill="#4e5057" textLength="381.5" lengthAdjust="spacingAndGlyphs">vdub_Trend_Master_v (144, 34, 26, 52, 26, 240, 2, 5, 90, 10, 10)</text>
<text x="410" y="69.8" font-size="12.5" fill="#0808ff" textLength="51" lengthAdjust="spacingAndGlyphs">4,114.79</text>
<text x="469" y="69.8" font-size="12.5" fill="#b4b7bf" textLength="51" lengthAdjust="spacingAndGlyphs">4,118.86</text>
<text x="528.5" y="69.8" font-size="12.5" fill="#1c7fd8" textLength="51" lengthAdjust="spacingAndGlyphs">4,143.50</text>
<text x="588" y="69.8" font-size="12.5" fill="#e03535" textLength="50.5" lengthAdjust="spacingAndGlyphs">4,161.88</text>
<text x="647" y="69.8" font-size="12.5" fill="#16181f" textLength="50.5" lengthAdjust="spacingAndGlyphs">4,149.04</text>
<g fill="#131313"><path d="M13.1 829.9H26.3V845.7H19.8V836.3H13.1Z"/><circle cx="31.9" cy="832.8" r="3"/><path d="M37.4 829.9H45.8L39.6 845.7H31.5Z"/></g>
<text x="54.3" y="845.7" font-size="22" font-weight="bold" fill="#131313" textLength="132.4" lengthAdjust="spacingAndGlyphs">TradingView</text>
</svg></body></html>
